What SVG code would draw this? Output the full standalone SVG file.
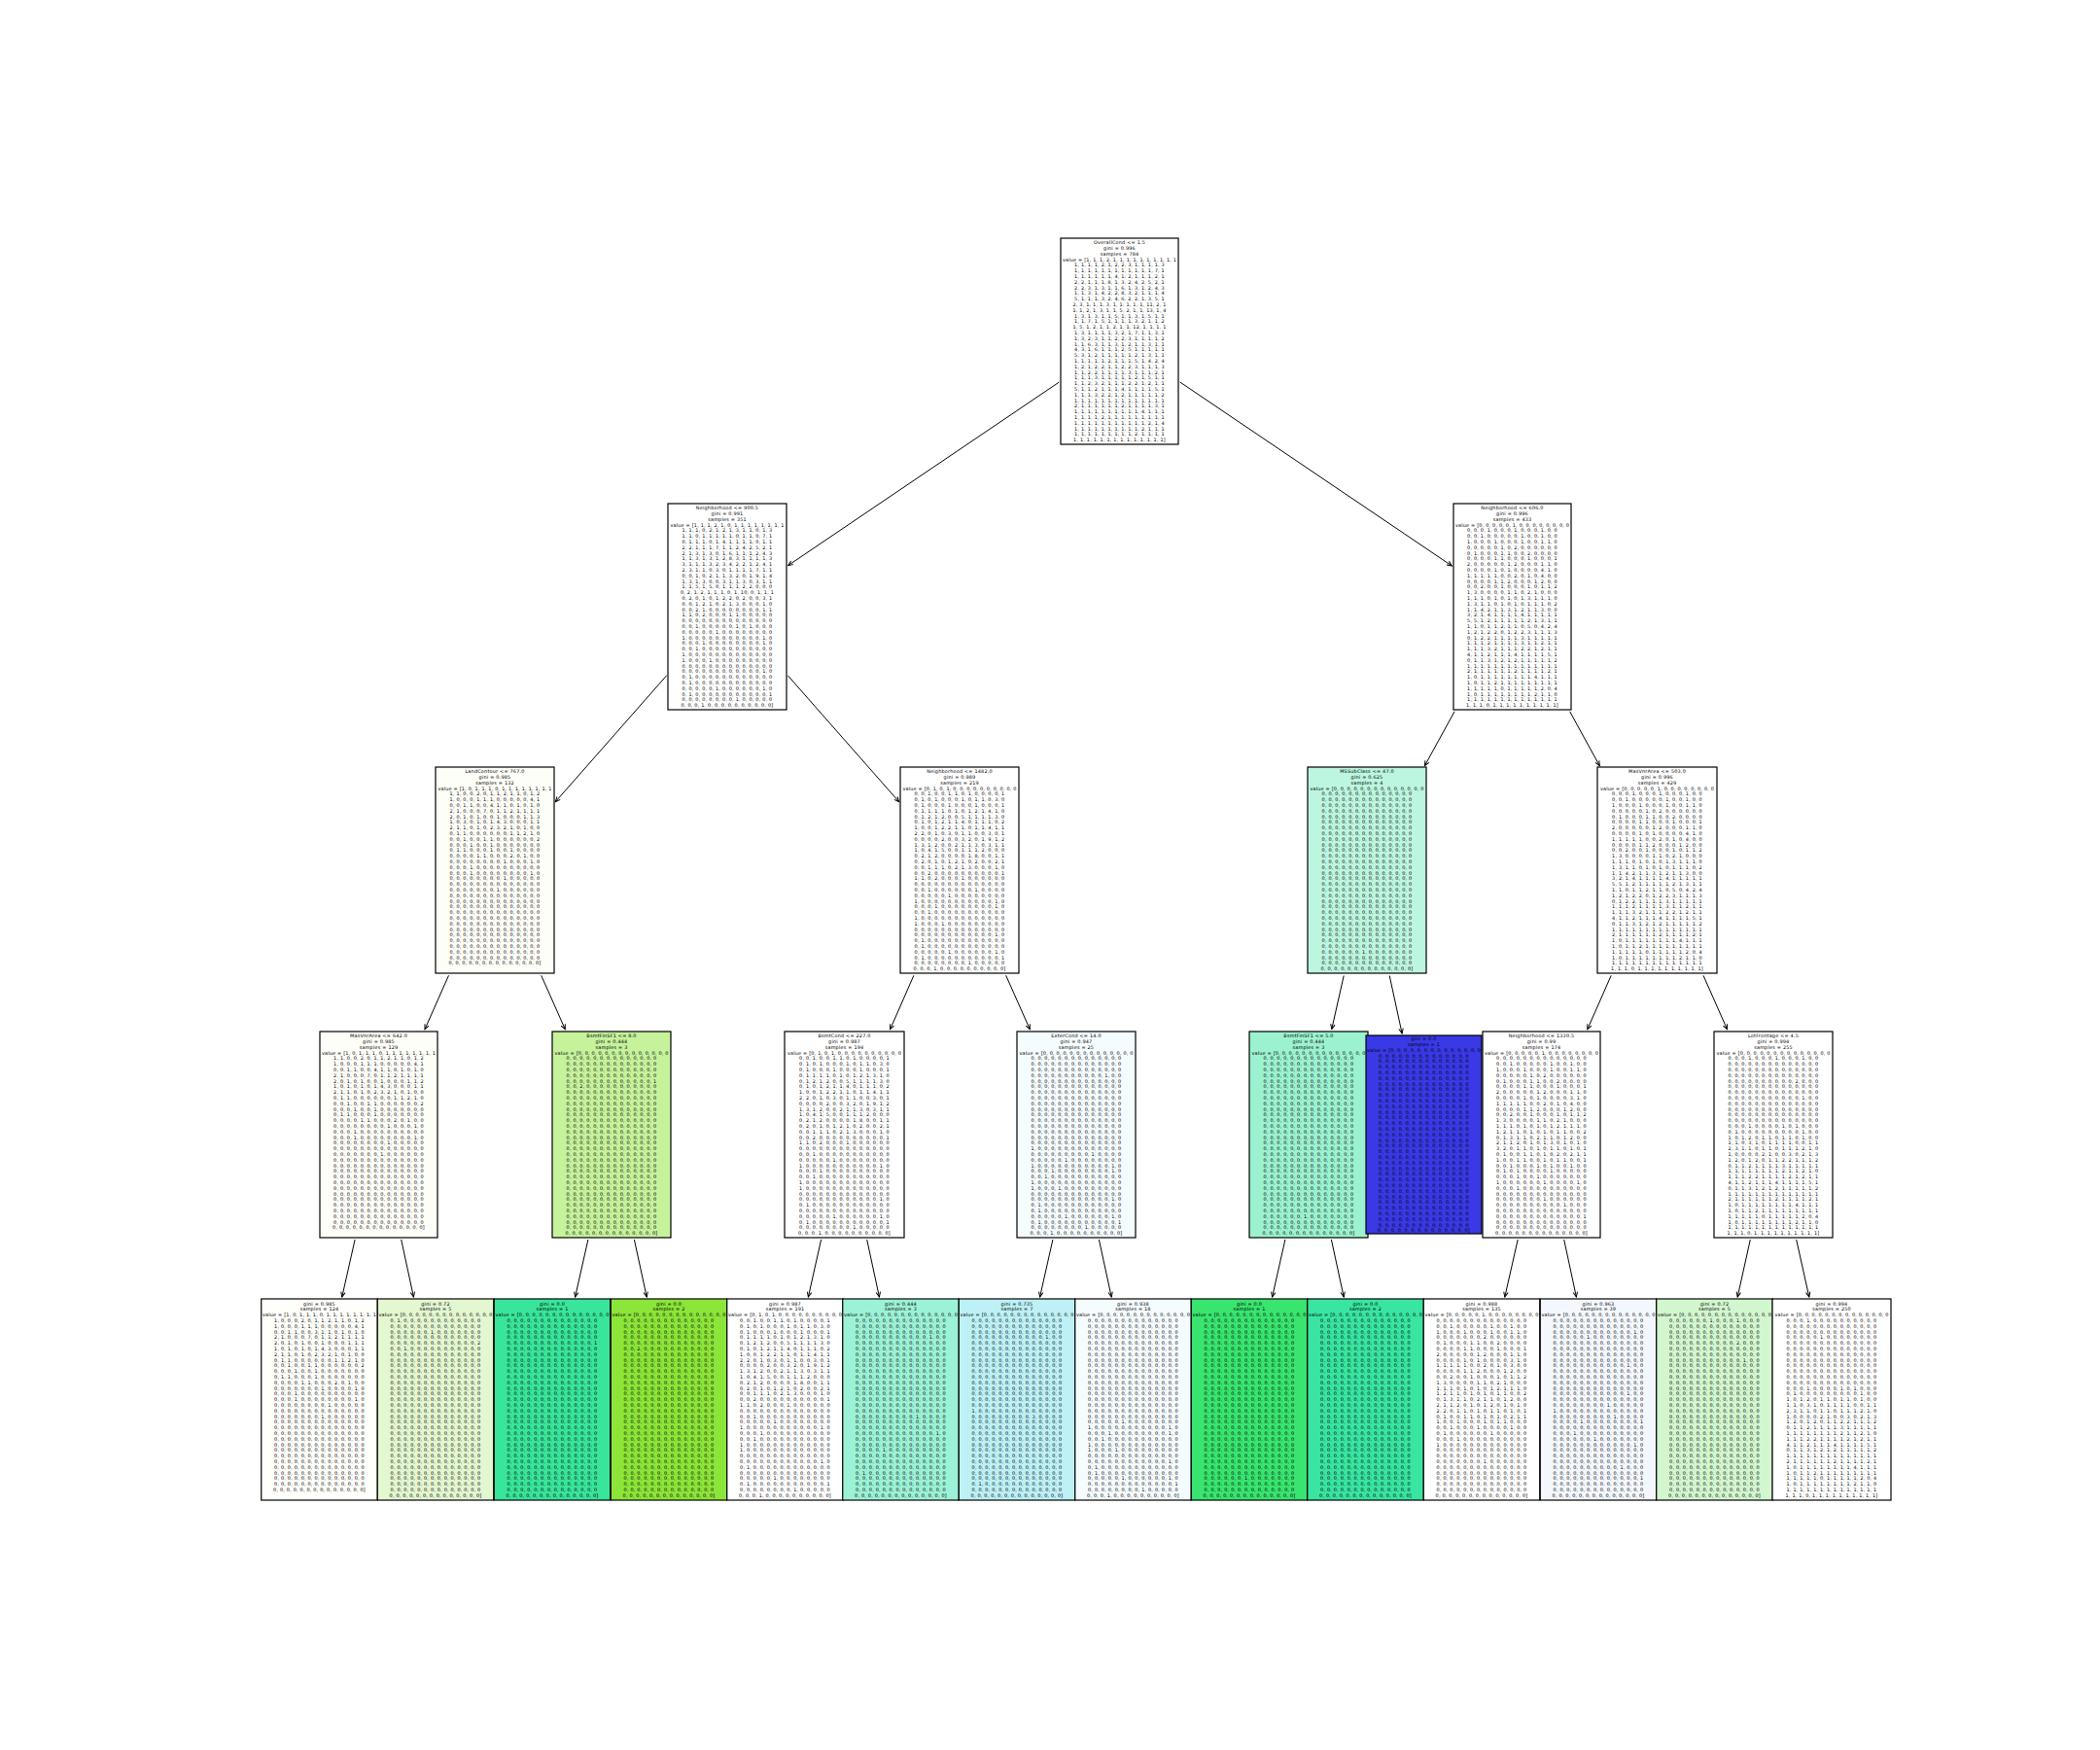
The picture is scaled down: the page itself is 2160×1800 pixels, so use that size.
<svg xmlns="http://www.w3.org/2000/svg" width="2160" height="1800" viewBox="0 0 2160 1800">
<style>
.b{stroke:#000;stroke-width:1.2}
.t{font-family:"DejaVu Sans","Liberation Sans",sans-serif;font-size:4.9px;letter-spacing:0.22px;text-anchor:middle;fill:#000}
.e{stroke:#000;stroke-width:1;fill:none;marker-end:url(#ah)}
</style>
<defs>
<marker id="ah" viewBox="-6 -3 7 6" refX="0" refY="0" markerWidth="7" markerHeight="6" orient="auto" markerUnits="userSpaceOnUse"><path d="M-5,-2.2 L0,0 L-5,2.2" fill="none" stroke="#000" stroke-width="1"/></marker>
</defs>
<rect width="2160" height="1800" fill="#fff"/>
<g id="connectors">
<line class="e" x1="1089.3" y1="393.1" x2="810.7" y2="581.6"/>
<line class="e" x1="1213.7" y1="393.0" x2="1493.3" y2="582.0"/>
<line class="e" x1="685.7" y1="694.8" x2="571.3" y2="824.7"/>
<line class="e" x1="810.3" y1="694.8" x2="924.7" y2="824.7"/>
<line class="e" x1="1496.1" y1="731.8" x2="1465.4" y2="787.7"/>
<line class="e" x1="1614.7" y1="731.8" x2="1645.3" y2="787.7"/>
<line class="e" x1="461.5" y1="1003.3" x2="437" y2="1058.7"/>
<line class="e" x1="556.7" y1="1003.3" x2="581.3" y2="1058.7"/>
<line class="e" x1="939.9" y1="1003.3" x2="915.6" y2="1058.7"/>
<line class="e" x1="1034.7" y1="1003.3" x2="1059.3" y2="1058.7"/>
<line class="e" x1="1382.2" y1="1003.5" x2="1369.8" y2="1058.5"/>
<line class="e" x1="1429.2" y1="1003.5" x2="1442.1" y2="1063"/>
<line class="e" x1="1657.2" y1="1003.3" x2="1632.8" y2="1058.7"/>
<line class="e" x1="1752" y1="1003.3" x2="1776.5" y2="1058.7"/>
<line class="e" x1="365.1" y1="1275" x2="351.8" y2="1334"/>
<line class="e" x1="412.7" y1="1275" x2="425.4" y2="1334"/>
<line class="e" x1="604.9" y1="1275" x2="591.6" y2="1334"/>
<line class="e" x1="652.4" y1="1275" x2="665.2" y2="1334"/>
<line class="e" x1="844.6" y1="1275" x2="831.4" y2="1334"/>
<line class="e" x1="891.7" y1="1275" x2="904.4" y2="1334"/>
<line class="e" x1="1082.9" y1="1275" x2="1069.6" y2="1334"/>
<line class="e" x1="1130.4" y1="1275" x2="1143.2" y2="1334"/>
<line class="e" x1="1321.9" y1="1275" x2="1308.6" y2="1334"/>
<line class="e" x1="1369.4" y1="1275" x2="1382.2" y2="1334"/>
<line class="e" x1="1561.2" y1="1275" x2="1547.8" y2="1334"/>
<line class="e" x1="1608.7" y1="1275" x2="1621.4" y2="1334"/>
<line class="e" x1="1800.3" y1="1275" x2="1787.2" y2="1334"/>
<line class="e" x1="1847.7" y1="1275" x2="1860.8" y2="1334"/>
</g>

<g id="node0" transform="translate(1151.5,245)"><rect class="b" x="-60.5" width="121" height="212" fill="#ffffff"/><text class="t" y="6.25"><tspan x="0">OverallCond &lt;= 1.5</tspan><tspan x="0" dy="5.8">gini = 0.996</tspan><tspan x="0" dy="5.8">samples = 784</tspan><tspan x="0" dy="5.8">value = [1, 1, 1, 2, 1, 1, 1, 1, 1, 1, 1, 1, 1, 1</tspan><tspan x="0" dy="5.8">1, 1, 1, 1, 2, 1, 2, 2, 3, 1, 1, 1, 1, 3</tspan><tspan x="0" dy="5.8">1, 1, 1, 1, 1, 1, 1, 1, 1, 1, 1, 1, 7, 1</tspan><tspan x="0" dy="5.8">1, 1, 1, 1, 1, 1, 4, 1, 2, 1, 1, 1, 2, 1</tspan><tspan x="0" dy="5.8">2, 2, 1, 1, 1, 8, 1, 3, 2, 4, 2, 5, 2, 1</tspan><tspan x="0" dy="5.8">2, 2, 3, 1, 3, 1, 1, 6, 1, 3, 1, 2, 4, 3</tspan><tspan x="0" dy="5.8">1, 1, 3, 1, 4, 2, 2, 8, 3, 2, 1, 1, 1, 4</tspan><tspan x="0" dy="5.8">5, 1, 1, 1, 3, 2, 4, 6, 2, 2, 1, 3, 5, 1</tspan><tspan x="0" dy="5.8">2, 3, 1, 1, 1, 3, 1, 1, 1, 1, 1, 11, 2, 1</tspan><tspan x="0" dy="5.8">1, 1, 2, 1, 3, 1, 1, 5, 2, 1, 1, 13, 1, 4</tspan><tspan x="0" dy="5.8">1, 3, 1, 3, 1, 1, 5, 1, 1, 3, 1, 5, 1, 1</tspan><tspan x="0" dy="5.8">1, 1, 7, 1, 5, 1, 1, 1, 1, 3, 2, 1, 1, 2</tspan><tspan x="0" dy="5.8">1, 5, 1, 2, 1, 1, 2, 1, 1, 12, 1, 1, 1, 1</tspan><tspan x="0" dy="5.8">1, 3, 1, 1, 1, 1, 3, 2, 1, 7, 1, 1, 3, 1</tspan><tspan x="0" dy="5.8">1, 3, 2, 3, 1, 1, 2, 2, 3, 1, 1, 1, 1, 2</tspan><tspan x="0" dy="5.8">1, 1, 6, 3, 1, 1, 3, 1, 2, 1, 1, 3, 1, 1</tspan><tspan x="0" dy="5.8">4, 3, 1, 6, 1, 1, 1, 2, 5, 1, 1, 1, 1, 1</tspan><tspan x="0" dy="5.8">5, 3, 1, 2, 1, 1, 1, 1, 1, 2, 1, 3, 1, 1</tspan><tspan x="0" dy="5.8">1, 1, 1, 1, 1, 2, 1, 1, 1, 5, 1, 4, 2, 4</tspan><tspan x="0" dy="5.8">1, 2, 1, 2, 2, 1, 1, 2, 2, 3, 1, 1, 1, 3</tspan><tspan x="0" dy="5.8">1, 1, 2, 2, 1, 1, 1, 1, 3, 1, 1, 1, 2, 1</tspan><tspan x="0" dy="5.8">1, 1, 1, 3, 1, 1, 1, 1, 1, 2, 1, 5, 1, 1</tspan><tspan x="0" dy="5.8">1, 1, 2, 3, 2, 1, 1, 1, 2, 2, 1, 2, 1, 1</tspan><tspan x="0" dy="5.8">5, 1, 1, 2, 1, 1, 1, 4, 1, 1, 1, 1, 5, 1</tspan><tspan x="0" dy="5.8">1, 1, 1, 3, 2, 2, 1, 2, 1, 1, 1, 1, 1, 2</tspan><tspan x="0" dy="5.8">1, 1, 1, 1, 1, 1, 1, 1, 1, 1, 1, 1, 1, 1</tspan><tspan x="0" dy="5.8">2, 1, 1, 1, 1, 1, 1, 2, 1, 1, 1, 1, 3, 1</tspan><tspan x="0" dy="5.8">1, 1, 1, 1, 1, 1, 1, 1, 1, 1, 4, 1, 1, 1</tspan><tspan x="0" dy="5.8">1, 1, 1, 1, 2, 1, 1, 1, 1, 1, 1, 1, 1, 1</tspan><tspan x="0" dy="5.8">1, 1, 1, 1, 1, 1, 1, 1, 1, 1, 1, 2, 1, 4</tspan><tspan x="0" dy="5.8">1, 1, 1, 1, 1, 1, 1, 1, 1, 1, 2, 1, 1, 1</tspan><tspan x="0" dy="5.8">1, 1, 1, 1, 1, 1, 1, 1, 1, 2, 1, 1, 1, 1</tspan><tspan x="0" dy="5.8">1, 1, 1, 1, 1, 1, 1, 1, 1, 1, 1, 1, 1, 1]</tspan></text></g>

<g id="node1" transform="translate(748,518)"><rect class="b" x="-61" width="122" height="212" fill="#ffffff"/><text class="t" y="6.25"><tspan x="0">Neighborhood &lt;= 900.5</tspan><tspan x="0" dy="5.8">gini = 0.991</tspan><tspan x="0" dy="5.8">samples = 351</tspan><tspan x="0" dy="5.8">value = [1, 1, 1, 2, 1, 0, 1, 1, 1, 1, 1, 1, 1, 1</tspan><tspan x="0" dy="5.8">1, 1, 1, 0, 2, 1, 2, 1, 3, 1, 1, 0, 1, 3</tspan><tspan x="0" dy="5.8">1, 1, 0, 1, 1, 1, 1, 1, 0, 1, 1, 0, 7, 1</tspan><tspan x="0" dy="5.8">0, 1, 1, 1, 0, 1, 4, 1, 1, 1, 1, 0, 1, 1</tspan><tspan x="0" dy="5.8">2, 2, 1, 1, 1, 7, 1, 1, 2, 4, 2, 5, 2, 1</tspan><tspan x="0" dy="5.8">2, 1, 3, 1, 3, 0, 1, 6, 1, 1, 1, 2, 4, 3</tspan><tspan x="0" dy="5.8">1, 1, 3, 1, 3, 1, 2, 8, 3, 1, 1, 1, 1, 3</tspan><tspan x="0" dy="5.8">3, 1, 1, 1, 3, 2, 3, 4, 2, 2, 1, 2, 4, 1</tspan><tspan x="0" dy="5.8">2, 3, 1, 1, 0, 3, 0, 1, 1, 1, 1, 7, 1, 1</tspan><tspan x="0" dy="5.8">0, 0, 1, 0, 2, 1, 1, 3, 2, 0, 1, 9, 1, 4</tspan><tspan x="0" dy="5.8">1, 3, 1, 3, 0, 0, 3, 1, 1, 3, 0, 3, 1, 1</tspan><tspan x="0" dy="5.8">1, 1, 5, 1, 5, 0, 1, 1, 1, 2, 2, 0, 0, 0</tspan><tspan x="0" dy="5.8">0, 2, 1, 2, 1, 1, 1, 0, 1, 10, 0, 1, 1, 1</tspan><tspan x="0" dy="5.8">0, 2, 0, 1, 0, 1, 2, 2, 0, 2, 0, 0, 3, 1</tspan><tspan x="0" dy="5.8">0, 0, 1, 2, 1, 0, 2, 1, 3, 0, 0, 0, 1, 0</tspan><tspan x="0" dy="5.8">0, 0, 2, 1, 0, 0, 0, 0, 0, 0, 0, 0, 1, 1</tspan><tspan x="0" dy="5.8">1, 1, 0, 2, 0, 0, 0, 1, 1, 0, 0, 0, 0, 0</tspan><tspan x="0" dy="5.8">0, 0, 0, 0, 0, 0, 0, 0, 0, 0, 0, 0, 0, 0</tspan><tspan x="0" dy="5.8">0, 0, 1, 0, 0, 0, 0, 0, 1, 0, 1, 0, 0, 0</tspan><tspan x="0" dy="5.8">0, 0, 0, 0, 0, 1, 0, 0, 0, 0, 0, 0, 0, 0</tspan><tspan x="0" dy="5.8">1, 0, 0, 0, 0, 0, 0, 0, 0, 0, 0, 0, 1, 0</tspan><tspan x="0" dy="5.8">0, 0, 0, 1, 0, 0, 0, 0, 0, 0, 0, 0, 1, 0</tspan><tspan x="0" dy="5.8">0, 0, 1, 0, 0, 0, 0, 0, 0, 0, 0, 0, 0, 0</tspan><tspan x="0" dy="5.8">1, 0, 0, 0, 0, 0, 0, 0, 0, 0, 0, 0, 0, 0</tspan><tspan x="0" dy="5.8">1, 0, 0, 0, 1, 0, 0, 0, 0, 0, 0, 0, 0, 0</tspan><tspan x="0" dy="5.8">0, 0, 0, 0, 0, 0, 0, 0, 0, 0, 0, 0, 0, 0</tspan><tspan x="0" dy="5.8">0, 0, 0, 0, 0, 0, 0, 0, 0, 0, 0, 0, 1, 0</tspan><tspan x="0" dy="5.8">0, 1, 0, 0, 0, 0, 0, 0, 0, 0, 0, 0, 0, 0</tspan><tspan x="0" dy="5.8">0, 1, 0, 0, 0, 0, 0, 0, 0, 0, 0, 0, 0, 0</tspan><tspan x="0" dy="5.8">0, 0, 0, 0, 0, 1, 0, 0, 0, 0, 0, 0, 1, 0</tspan><tspan x="0" dy="5.8">0, 1, 0, 0, 0, 0, 0, 0, 0, 0, 0, 0, 0, 1</tspan><tspan x="0" dy="5.8">0, 0, 0, 0, 0, 0, 0, 0, 1, 0, 0, 0, 0, 0</tspan><tspan x="0" dy="5.8">0, 0, 0, 1, 0, 0, 0, 0, 0, 0, 0, 0, 0, 0]</tspan></text></g>

<g id="node3" transform="translate(509,789)"><rect class="b" x="-61" width="122" height="212" fill="#fefef8"/><text class="t" y="6.25"><tspan x="0">LandContour &lt;= 767.0</tspan><tspan x="0" dy="5.8">gini = 0.985</tspan><tspan x="0" dy="5.8">samples = 132</tspan><tspan x="0" dy="5.8">value = [1, 0, 1, 1, 1, 0, 1, 1, 1, 1, 1, 1, 1, 1</tspan><tspan x="0" dy="5.8">1, 1, 0, 0, 2, 0, 1, 1, 2, 1, 1, 0, 1, 2</tspan><tspan x="0" dy="5.8">1, 0, 0, 0, 1, 1, 1, 0, 0, 0, 0, 0, 4, 1</tspan><tspan x="0" dy="5.8">0, 0, 1, 1, 0, 0, 4, 1, 1, 0, 1, 0, 1, 0</tspan><tspan x="0" dy="5.8">2, 1, 0, 0, 0, 7, 0, 1, 1, 2, 1, 1, 1, 1</tspan><tspan x="0" dy="5.8">2, 0, 1, 0, 1, 0, 0, 1, 0, 0, 0, 1, 1, 3</tspan><tspan x="0" dy="5.8">1, 0, 3, 0, 1, 0, 1, 4, 3, 0, 0, 0, 1, 1</tspan><tspan x="0" dy="5.8">2, 1, 1, 0, 1, 0, 2, 3, 2, 1, 0, 1, 0, 0</tspan><tspan x="0" dy="5.8">0, 1, 1, 0, 0, 0, 0, 0, 0, 1, 1, 2, 1, 0</tspan><tspan x="0" dy="5.8">0, 0, 1, 0, 0, 1, 1, 0, 0, 0, 0, 0, 0, 2</tspan><tspan x="0" dy="5.8">0, 0, 0, 1, 0, 0, 1, 0, 0, 0, 0, 0, 0, 0</tspan><tspan x="0" dy="5.8">0, 1, 1, 0, 0, 0, 1, 0, 0, 1, 0, 0, 0, 0</tspan><tspan x="0" dy="5.8">0, 0, 0, 0, 1, 1, 0, 0, 0, 2, 0, 1, 0, 0</tspan><tspan x="0" dy="5.8">0, 0, 0, 0, 0, 0, 0, 0, 1, 0, 0, 0, 1, 0</tspan><tspan x="0" dy="5.8">0, 0, 0, 1, 0, 0, 0, 0, 0, 0, 0, 0, 0, 0</tspan><tspan x="0" dy="5.8">0, 0, 0, 1, 0, 0, 0, 0, 0, 0, 0, 0, 1, 0</tspan><tspan x="0" dy="5.8">0, 0, 0, 0, 0, 0, 0, 0, 1, 0, 0, 0, 0, 0</tspan><tspan x="0" dy="5.8">0, 0, 0, 0, 0, 0, 0, 0, 0, 0, 0, 0, 0, 0</tspan><tspan x="0" dy="5.8">0, 0, 0, 0, 0, 0, 0, 1, 0, 0, 0, 0, 0, 0</tspan><tspan x="0" dy="5.8">0, 0, 0, 0, 0, 0, 0, 0, 0, 0, 0, 0, 0, 0</tspan><tspan x="0" dy="5.8">0, 0, 0, 0, 0, 0, 0, 0, 0, 0, 0, 0, 0, 0</tspan><tspan x="0" dy="5.8">0, 0, 0, 0, 0, 0, 0, 0, 0, 0, 0, 0, 0, 0</tspan><tspan x="0" dy="5.8">0, 0, 0, 0, 0, 0, 0, 0, 0, 0, 0, 0, 0, 0</tspan><tspan x="0" dy="5.8">0, 0, 0, 0, 0, 0, 0, 0, 0, 0, 0, 0, 0, 0</tspan><tspan x="0" dy="5.8">0, 0, 0, 0, 0, 0, 0, 0, 0, 0, 0, 0, 0, 0</tspan><tspan x="0" dy="5.8">0, 0, 0, 0, 0, 0, 0, 0, 0, 0, 0, 0, 0, 0</tspan><tspan x="0" dy="5.8">0, 0, 0, 0, 0, 0, 0, 0, 0, 0, 0, 0, 0, 0</tspan><tspan x="0" dy="5.8">0, 0, 0, 0, 0, 0, 0, 0, 0, 0, 0, 0, 0, 0</tspan><tspan x="0" dy="5.8">0, 0, 0, 0, 0, 0, 0, 0, 0, 0, 0, 0, 0, 0</tspan><tspan x="0" dy="5.8">0, 0, 0, 0, 0, 0, 0, 0, 0, 0, 0, 0, 0, 0</tspan><tspan x="0" dy="5.8">0, 0, 0, 0, 0, 0, 0, 0, 0, 0, 0, 0, 0, 0</tspan><tspan x="0" dy="5.8">0, 0, 0, 0, 0, 0, 0, 0, 0, 0, 0, 0, 0, 0]</tspan></text></g>

<g id="node7" transform="translate(389.5,1061)"><rect class="b" x="-60.5" width="121" height="212" fill="#fefef9"/><text class="t" y="6.25"><tspan x="0">MasVnrArea &lt;= 642.0</tspan><tspan x="0" dy="5.8">gini = 0.985</tspan><tspan x="0" dy="5.8">samples = 129</tspan><tspan x="0" dy="5.8">value = [1, 0, 1, 1, 1, 0, 1, 1, 1, 1, 1, 1, 1, 1</tspan><tspan x="0" dy="5.8">1, 1, 0, 0, 2, 0, 1, 1, 2, 1, 1, 0, 1, 2</tspan><tspan x="0" dy="5.8">1, 0, 0, 0, 1, 1, 1, 0, 0, 0, 0, 0, 4, 1</tspan><tspan x="0" dy="5.8">0, 0, 1, 1, 0, 0, 4, 1, 1, 0, 1, 0, 1, 0</tspan><tspan x="0" dy="5.8">2, 1, 0, 0, 0, 7, 0, 1, 1, 2, 1, 1, 1, 1</tspan><tspan x="0" dy="5.8">2, 0, 1, 0, 1, 0, 0, 1, 0, 0, 0, 1, 1, 2</tspan><tspan x="0" dy="5.8">1, 0, 1, 0, 1, 0, 1, 4, 3, 0, 0, 0, 1, 1</tspan><tspan x="0" dy="5.8">2, 1, 1, 0, 1, 0, 2, 3, 2, 1, 0, 1, 0, 0</tspan><tspan x="0" dy="5.8">0, 1, 1, 0, 0, 0, 0, 0, 0, 1, 1, 2, 1, 0</tspan><tspan x="0" dy="5.8">0, 0, 1, 0, 0, 1, 1, 0, 0, 0, 0, 0, 0, 2</tspan><tspan x="0" dy="5.8">0, 0, 0, 1, 0, 0, 1, 0, 0, 0, 0, 0, 0, 0</tspan><tspan x="0" dy="5.8">0, 1, 1, 0, 0, 0, 1, 0, 0, 0, 0, 0, 0, 0</tspan><tspan x="0" dy="5.8">0, 0, 0, 0, 1, 1, 0, 0, 0, 2, 0, 1, 0, 0</tspan><tspan x="0" dy="5.8">0, 0, 0, 0, 0, 0, 0, 0, 1, 0, 0, 0, 1, 0</tspan><tspan x="0" dy="5.8">0, 0, 0, 1, 0, 0, 0, 0, 0, 0, 0, 0, 0, 0</tspan><tspan x="0" dy="5.8">0, 0, 0, 1, 0, 0, 0, 0, 0, 0, 0, 0, 1, 0</tspan><tspan x="0" dy="5.8">0, 0, 0, 0, 0, 0, 0, 0, 1, 0, 0, 0, 0, 0</tspan><tspan x="0" dy="5.8">0, 0, 0, 0, 0, 0, 0, 0, 0, 0, 0, 0, 0, 0</tspan><tspan x="0" dy="5.8">0, 0, 0, 0, 0, 0, 0, 1, 0, 0, 0, 0, 0, 0</tspan><tspan x="0" dy="5.8">0, 0, 0, 0, 0, 0, 0, 0, 0, 0, 0, 0, 0, 0</tspan><tspan x="0" dy="5.8">0, 0, 0, 0, 0, 0, 0, 0, 0, 0, 0, 0, 0, 0</tspan><tspan x="0" dy="5.8">0, 0, 0, 0, 0, 0, 0, 0, 0, 0, 0, 0, 0, 0</tspan><tspan x="0" dy="5.8">0, 0, 0, 0, 0, 0, 0, 0, 0, 0, 0, 0, 0, 0</tspan><tspan x="0" dy="5.8">0, 0, 0, 0, 0, 0, 0, 0, 0, 0, 0, 0, 0, 0</tspan><tspan x="0" dy="5.8">0, 0, 0, 0, 0, 0, 0, 0, 0, 0, 0, 0, 0, 0</tspan><tspan x="0" dy="5.8">0, 0, 0, 0, 0, 0, 0, 0, 0, 0, 0, 0, 0, 0</tspan><tspan x="0" dy="5.8">0, 0, 0, 0, 0, 0, 0, 0, 0, 0, 0, 0, 0, 0</tspan><tspan x="0" dy="5.8">0, 0, 0, 0, 0, 0, 0, 0, 0, 0, 0, 0, 0, 0</tspan><tspan x="0" dy="5.8">0, 0, 0, 0, 0, 0, 0, 0, 0, 0, 0, 0, 0, 0</tspan><tspan x="0" dy="5.8">0, 0, 0, 0, 0, 0, 0, 0, 0, 0, 0, 0, 0, 0</tspan><tspan x="0" dy="5.8">0, 0, 0, 0, 0, 0, 0, 0, 0, 0, 0, 0, 0, 0</tspan><tspan x="0" dy="5.8">0, 0, 0, 0, 0, 0, 0, 0, 0, 0, 0, 0, 0, 0]</tspan></text></g>

<g id="leaf1" transform="translate(328.5,1336)"><rect class="b" x="-59.75" width="119.5" height="207" fill="#fefefa"/><text class="t" y="6.65"><tspan x="0">gini = 0.985</tspan><tspan x="0" dy="5.8">samples = 124</tspan><tspan x="0" dy="5.8">value = [1, 0, 1, 1, 1, 0, 1, 1, 1, 1, 1, 1, 1, 1</tspan><tspan x="0" dy="5.8">1, 0, 0, 0, 2, 0, 1, 1, 2, 1, 1, 0, 1, 2</tspan><tspan x="0" dy="5.8">1, 0, 0, 0, 1, 1, 1, 0, 0, 0, 0, 0, 4, 1</tspan><tspan x="0" dy="5.8">0, 0, 1, 1, 0, 0, 3, 1, 1, 0, 1, 0, 1, 0</tspan><tspan x="0" dy="5.8">2, 1, 0, 0, 0, 7, 0, 1, 1, 2, 1, 1, 1, 1</tspan><tspan x="0" dy="5.8">2, 0, 1, 0, 1, 0, 0, 1, 0, 0, 0, 1, 1, 1</tspan><tspan x="0" dy="5.8">1, 0, 1, 0, 1, 0, 1, 4, 3, 0, 0, 0, 1, 1</tspan><tspan x="0" dy="5.8">2, 1, 1, 0, 1, 0, 2, 3, 2, 1, 0, 1, 0, 0</tspan><tspan x="0" dy="5.8">0, 1, 1, 0, 0, 0, 0, 0, 0, 1, 1, 2, 1, 0</tspan><tspan x="0" dy="5.8">0, 0, 1, 0, 0, 1, 1, 0, 0, 0, 0, 0, 0, 2</tspan><tspan x="0" dy="5.8">0, 0, 0, 1, 0, 0, 1, 0, 0, 0, 0, 0, 0, 0</tspan><tspan x="0" dy="5.8">0, 1, 1, 0, 0, 0, 1, 0, 0, 0, 0, 0, 0, 0</tspan><tspan x="0" dy="5.8">0, 0, 0, 0, 1, 1, 0, 0, 0, 2, 0, 1, 0, 0</tspan><tspan x="0" dy="5.8">0, 0, 0, 0, 0, 0, 0, 1, 0, 0, 0, 0, 1, 0</tspan><tspan x="0" dy="5.8">0, 0, 0, 1, 0, 0, 0, 0, 0, 0, 0, 0, 0, 0</tspan><tspan x="0" dy="5.8">0, 0, 0, 1, 0, 0, 0, 0, 0, 0, 0, 0, 1, 0</tspan><tspan x="0" dy="5.8">0, 0, 0, 0, 0, 0, 0, 0, 1, 0, 0, 0, 0, 0</tspan><tspan x="0" dy="5.8">0, 0, 0, 0, 0, 0, 0, 0, 0, 0, 0, 0, 0, 0</tspan><tspan x="0" dy="5.8">0, 0, 0, 0, 0, 0, 0, 1, 0, 0, 0, 0, 0, 0</tspan><tspan x="0" dy="5.8">0, 0, 0, 0, 0, 0, 0, 0, 0, 0, 0, 0, 0, 0</tspan><tspan x="0" dy="5.8">0, 0, 0, 0, 0, 0, 0, 0, 0, 0, 0, 0, 0, 0</tspan><tspan x="0" dy="5.8">0, 0, 0, 0, 0, 0, 0, 0, 0, 0, 0, 0, 0, 0</tspan><tspan x="0" dy="5.8">0, 0, 0, 0, 0, 0, 0, 0, 0, 0, 0, 0, 0, 0</tspan><tspan x="0" dy="5.8">0, 0, 0, 0, 0, 0, 0, 0, 0, 0, 0, 0, 0, 0</tspan><tspan x="0" dy="5.8">0, 0, 0, 0, 0, 0, 0, 0, 0, 0, 0, 0, 0, 0</tspan><tspan x="0" dy="5.8">0, 0, 0, 0, 0, 0, 0, 0, 0, 0, 0, 0, 0, 0</tspan><tspan x="0" dy="5.8">0, 0, 0, 0, 0, 0, 0, 0, 0, 0, 0, 0, 0, 0</tspan><tspan x="0" dy="5.8">0, 0, 0, 0, 0, 0, 0, 0, 0, 0, 0, 0, 0, 0</tspan><tspan x="0" dy="5.8">0, 0, 0, 0, 0, 0, 0, 0, 0, 0, 0, 0, 0, 0</tspan><tspan x="0" dy="5.8">0, 0, 0, 0, 0, 0, 0, 0, 0, 0, 0, 0, 0, 0</tspan><tspan x="0" dy="5.8">0, 0, 0, 0, 0, 0, 0, 0, 0, 0, 0, 0, 0, 0</tspan><tspan x="0" dy="5.8">0, 0, 0, 0, 0, 0, 0, 0, 0, 0, 0, 0, 0, 0]</tspan></text></g>

<g id="leaf2" transform="translate(448,1336)"><rect class="b" x="-59.75" width="119.5" height="207" fill="#e3f7d0"/><text class="t" y="6.65"><tspan x="0">gini = 0.72</tspan><tspan x="0" dy="5.8">samples = 5</tspan><tspan x="0" dy="5.8">value = [0, 0, 0, 0, 0, 0, 0, 0, 0, 0, 0, 0, 0, 0</tspan><tspan x="0" dy="5.8">0, 1, 0, 0, 0, 0, 0, 0, 0, 0, 0, 0, 0, 0</tspan><tspan x="0" dy="5.8">0, 0, 0, 0, 0, 0, 0, 0, 0, 0, 0, 0, 0, 0</tspan><tspan x="0" dy="5.8">0, 0, 0, 0, 0, 0, 1, 0, 0, 0, 0, 0, 0, 0</tspan><tspan x="0" dy="5.8">0, 0, 0, 0, 0, 0, 0, 0, 0, 0, 0, 0, 0, 0</tspan><tspan x="0" dy="5.8">0, 0, 0, 0, 0, 0, 0, 0, 0, 0, 0, 0, 0, 2</tspan><tspan x="0" dy="5.8">0, 0, 1, 0, 0, 0, 0, 0, 0, 0, 0, 0, 0, 0</tspan><tspan x="0" dy="5.8">0, 0, 0, 0, 0, 0, 0, 0, 0, 0, 0, 0, 0, 0</tspan><tspan x="0" dy="5.8">0, 0, 0, 0, 0, 0, 0, 0, 0, 0, 0, 0, 0, 0</tspan><tspan x="0" dy="5.8">0, 0, 0, 0, 0, 0, 0, 0, 0, 0, 0, 0, 0, 0</tspan><tspan x="0" dy="5.8">0, 0, 0, 0, 0, 0, 0, 0, 0, 0, 0, 0, 0, 0</tspan><tspan x="0" dy="5.8">0, 0, 0, 0, 0, 0, 0, 0, 0, 0, 0, 0, 0, 0</tspan><tspan x="0" dy="5.8">0, 0, 0, 0, 0, 0, 0, 0, 0, 0, 0, 0, 0, 0</tspan><tspan x="0" dy="5.8">0, 0, 0, 0, 0, 0, 0, 0, 0, 0, 0, 0, 0, 0</tspan><tspan x="0" dy="5.8">0, 0, 0, 0, 0, 0, 0, 0, 0, 0, 0, 0, 0, 0</tspan><tspan x="0" dy="5.8">0, 0, 0, 0, 0, 0, 0, 0, 0, 0, 0, 0, 0, 0</tspan><tspan x="0" dy="5.8">0, 0, 0, 0, 0, 0, 0, 0, 0, 0, 0, 0, 0, 0</tspan><tspan x="0" dy="5.8">0, 0, 0, 0, 0, 0, 0, 0, 0, 0, 0, 0, 0, 0</tspan><tspan x="0" dy="5.8">0, 0, 0, 0, 0, 0, 0, 0, 0, 0, 0, 0, 0, 0</tspan><tspan x="0" dy="5.8">0, 0, 0, 0, 0, 0, 0, 0, 0, 0, 0, 0, 0, 0</tspan><tspan x="0" dy="5.8">0, 0, 0, 0, 0, 0, 0, 0, 0, 0, 0, 0, 0, 0</tspan><tspan x="0" dy="5.8">0, 0, 0, 0, 0, 0, 0, 0, 0, 0, 0, 0, 0, 0</tspan><tspan x="0" dy="5.8">0, 0, 0, 0, 0, 0, 0, 0, 0, 0, 0, 0, 0, 0</tspan><tspan x="0" dy="5.8">0, 0, 0, 0, 0, 0, 0, 0, 0, 0, 0, 0, 0, 0</tspan><tspan x="0" dy="5.8">0, 0, 0, 0, 0, 0, 0, 0, 0, 0, 0, 0, 0, 0</tspan><tspan x="0" dy="5.8">0, 0, 0, 0, 0, 0, 0, 0, 0, 0, 0, 0, 0, 0</tspan><tspan x="0" dy="5.8">0, 0, 0, 0, 0, 0, 0, 0, 0, 0, 0, 0, 0, 0</tspan><tspan x="0" dy="5.8">0, 0, 0, 0, 0, 0, 0, 0, 0, 0, 0, 0, 0, 0</tspan><tspan x="0" dy="5.8">0, 0, 0, 0, 0, 0, 0, 0, 0, 0, 0, 0, 0, 0</tspan><tspan x="0" dy="5.8">0, 0, 0, 0, 0, 0, 0, 0, 0, 0, 0, 0, 0, 0</tspan><tspan x="0" dy="5.8">0, 0, 0, 0, 0, 0, 0, 0, 0, 0, 0, 0, 0, 0</tspan><tspan x="0" dy="5.8">0, 0, 0, 0, 0, 0, 0, 0, 0, 0, 0, 0, 0, 0</tspan><tspan x="0" dy="5.8">0, 0, 0, 0, 0, 0, 0, 0, 0, 0, 0, 0, 0, 0]</tspan></text></g>

<g id="node8" transform="translate(629,1061)"><rect class="b" x="-61" width="122" height="212" fill="#c6f29c"/><text class="t" y="6.25"><tspan x="0">BsmtFinSF1 &lt;= 8.0</tspan><tspan x="0" dy="5.8">gini = 0.444</tspan><tspan x="0" dy="5.8">samples = 3</tspan><tspan x="0" dy="5.8">value = [0, 0, 0, 0, 0, 0, 0, 0, 0, 0, 0, 0, 0, 0</tspan><tspan x="0" dy="5.8">0, 0, 0, 0, 0, 0, 0, 0, 0, 0, 0, 0, 0, 0</tspan><tspan x="0" dy="5.8">0, 0, 0, 0, 0, 0, 0, 0, 0, 0, 0, 0, 0, 0</tspan><tspan x="0" dy="5.8">0, 0, 0, 0, 0, 0, 0, 0, 0, 0, 0, 0, 0, 0</tspan><tspan x="0" dy="5.8">0, 0, 0, 0, 0, 0, 0, 0, 0, 0, 0, 0, 0, 0</tspan><tspan x="0" dy="5.8">0, 0, 0, 0, 0, 0, 0, 0, 0, 0, 0, 0, 0, 1</tspan><tspan x="0" dy="5.8">0, 0, 2, 0, 0, 0, 0, 0, 0, 0, 0, 0, 0, 0</tspan><tspan x="0" dy="5.8">0, 0, 0, 0, 0, 0, 0, 0, 0, 0, 0, 0, 0, 0</tspan><tspan x="0" dy="5.8">0, 0, 0, 0, 0, 0, 0, 0, 0, 0, 0, 0, 0, 0</tspan><tspan x="0" dy="5.8">0, 0, 0, 0, 0, 0, 0, 0, 0, 0, 0, 0, 0, 0</tspan><tspan x="0" dy="5.8">0, 0, 0, 0, 0, 0, 0, 0, 0, 0, 0, 0, 0, 0</tspan><tspan x="0" dy="5.8">0, 0, 0, 0, 0, 0, 0, 0, 0, 0, 0, 0, 0, 0</tspan><tspan x="0" dy="5.8">0, 0, 0, 0, 0, 0, 0, 0, 0, 0, 0, 0, 0, 0</tspan><tspan x="0" dy="5.8">0, 0, 0, 0, 0, 0, 0, 0, 0, 0, 0, 0, 0, 0</tspan><tspan x="0" dy="5.8">0, 0, 0, 0, 0, 0, 0, 0, 0, 0, 0, 0, 0, 0</tspan><tspan x="0" dy="5.8">0, 0, 0, 0, 0, 0, 0, 0, 0, 0, 0, 0, 0, 0</tspan><tspan x="0" dy="5.8">0, 0, 0, 0, 0, 0, 0, 0, 0, 0, 0, 0, 0, 0</tspan><tspan x="0" dy="5.8">0, 0, 0, 0, 0, 0, 0, 0, 0, 0, 0, 0, 0, 0</tspan><tspan x="0" dy="5.8">0, 0, 0, 0, 0, 0, 0, 0, 0, 0, 0, 0, 0, 0</tspan><tspan x="0" dy="5.8">0, 0, 0, 0, 0, 0, 0, 0, 0, 0, 0, 0, 0, 0</tspan><tspan x="0" dy="5.8">0, 0, 0, 0, 0, 0, 0, 0, 0, 0, 0, 0, 0, 0</tspan><tspan x="0" dy="5.8">0, 0, 0, 0, 0, 0, 0, 0, 0, 0, 0, 0, 0, 0</tspan><tspan x="0" dy="5.8">0, 0, 0, 0, 0, 0, 0, 0, 0, 0, 0, 0, 0, 0</tspan><tspan x="0" dy="5.8">0, 0, 0, 0, 0, 0, 0, 0, 0, 0, 0, 0, 0, 0</tspan><tspan x="0" dy="5.8">0, 0, 0, 0, 0, 0, 0, 0, 0, 0, 0, 0, 0, 0</tspan><tspan x="0" dy="5.8">0, 0, 0, 0, 0, 0, 0, 0, 0, 0, 0, 0, 0, 0</tspan><tspan x="0" dy="5.8">0, 0, 0, 0, 0, 0, 0, 0, 0, 0, 0, 0, 0, 0</tspan><tspan x="0" dy="5.8">0, 0, 0, 0, 0, 0, 0, 0, 0, 0, 0, 0, 0, 0</tspan><tspan x="0" dy="5.8">0, 0, 0, 0, 0, 0, 0, 0, 0, 0, 0, 0, 0, 0</tspan><tspan x="0" dy="5.8">0, 0, 0, 0, 0, 0, 0, 0, 0, 0, 0, 0, 0, 0</tspan><tspan x="0" dy="5.8">0, 0, 0, 0, 0, 0, 0, 0, 0, 0, 0, 0, 0, 0</tspan><tspan x="0" dy="5.8">0, 0, 0, 0, 0, 0, 0, 0, 0, 0, 0, 0, 0, 0</tspan><tspan x="0" dy="5.8">0, 0, 0, 0, 0, 0, 0, 0, 0, 0, 0, 0, 0, 0]</tspan></text></g>

<g id="leaf3" transform="translate(568,1336)"><rect class="b" x="-59.75" width="119.5" height="207" fill="#39e59a"/><text class="t" y="6.65"><tspan x="0">gini = 0.0</tspan><tspan x="0" dy="5.8">samples = 1</tspan><tspan x="0" dy="5.8">value = [0, 0, 0, 0, 0, 0, 0, 0, 0, 0, 0, 0, 0, 0</tspan><tspan x="0" dy="5.8">0, 0, 0, 0, 0, 0, 0, 0, 0, 0, 0, 0, 0, 0</tspan><tspan x="0" dy="5.8">0, 0, 0, 0, 0, 0, 0, 0, 0, 0, 0, 0, 0, 0</tspan><tspan x="0" dy="5.8">0, 0, 0, 0, 0, 0, 0, 0, 0, 0, 0, 0, 0, 0</tspan><tspan x="0" dy="5.8">0, 0, 0, 0, 0, 0, 0, 0, 0, 0, 0, 0, 0, 0</tspan><tspan x="0" dy="5.8">0, 0, 0, 0, 0, 0, 0, 0, 0, 0, 0, 0, 0, 1</tspan><tspan x="0" dy="5.8">0, 0, 0, 0, 0, 0, 0, 0, 0, 0, 0, 0, 0, 0</tspan><tspan x="0" dy="5.8">0, 0, 0, 0, 0, 0, 0, 0, 0, 0, 0, 0, 0, 0</tspan><tspan x="0" dy="5.8">0, 0, 0, 0, 0, 0, 0, 0, 0, 0, 0, 0, 0, 0</tspan><tspan x="0" dy="5.8">0, 0, 0, 0, 0, 0, 0, 0, 0, 0, 0, 0, 0, 0</tspan><tspan x="0" dy="5.8">0, 0, 0, 0, 0, 0, 0, 0, 0, 0, 0, 0, 0, 0</tspan><tspan x="0" dy="5.8">0, 0, 0, 0, 0, 0, 0, 0, 0, 0, 0, 0, 0, 0</tspan><tspan x="0" dy="5.8">0, 0, 0, 0, 0, 0, 0, 0, 0, 0, 0, 0, 0, 0</tspan><tspan x="0" dy="5.8">0, 0, 0, 0, 0, 0, 0, 0, 0, 0, 0, 0, 0, 0</tspan><tspan x="0" dy="5.8">0, 0, 0, 0, 0, 0, 0, 0, 0, 0, 0, 0, 0, 0</tspan><tspan x="0" dy="5.8">0, 0, 0, 0, 0, 0, 0, 0, 0, 0, 0, 0, 0, 0</tspan><tspan x="0" dy="5.8">0, 0, 0, 0, 0, 0, 0, 0, 0, 0, 0, 0, 0, 0</tspan><tspan x="0" dy="5.8">0, 0, 0, 0, 0, 0, 0, 0, 0, 0, 0, 0, 0, 0</tspan><tspan x="0" dy="5.8">0, 0, 0, 0, 0, 0, 0, 0, 0, 0, 0, 0, 0, 0</tspan><tspan x="0" dy="5.8">0, 0, 0, 0, 0, 0, 0, 0, 0, 0, 0, 0, 0, 0</tspan><tspan x="0" dy="5.8">0, 0, 0, 0, 0, 0, 0, 0, 0, 0, 0, 0, 0, 0</tspan><tspan x="0" dy="5.8">0, 0, 0, 0, 0, 0, 0, 0, 0, 0, 0, 0, 0, 0</tspan><tspan x="0" dy="5.8">0, 0, 0, 0, 0, 0, 0, 0, 0, 0, 0, 0, 0, 0</tspan><tspan x="0" dy="5.8">0, 0, 0, 0, 0, 0, 0, 0, 0, 0, 0, 0, 0, 0</tspan><tspan x="0" dy="5.8">0, 0, 0, 0, 0, 0, 0, 0, 0, 0, 0, 0, 0, 0</tspan><tspan x="0" dy="5.8">0, 0, 0, 0, 0, 0, 0, 0, 0, 0, 0, 0, 0, 0</tspan><tspan x="0" dy="5.8">0, 0, 0, 0, 0, 0, 0, 0, 0, 0, 0, 0, 0, 0</tspan><tspan x="0" dy="5.8">0, 0, 0, 0, 0, 0, 0, 0, 0, 0, 0, 0, 0, 0</tspan><tspan x="0" dy="5.8">0, 0, 0, 0, 0, 0, 0, 0, 0, 0, 0, 0, 0, 0</tspan><tspan x="0" dy="5.8">0, 0, 0, 0, 0, 0, 0, 0, 0, 0, 0, 0, 0, 0</tspan><tspan x="0" dy="5.8">0, 0, 0, 0, 0, 0, 0, 0, 0, 0, 0, 0, 0, 0</tspan><tspan x="0" dy="5.8">0, 0, 0, 0, 0, 0, 0, 0, 0, 0, 0, 0, 0, 0</tspan><tspan x="0" dy="5.8">0, 0, 0, 0, 0, 0, 0, 0, 0, 0, 0, 0, 0, 0]</tspan></text></g>

<g id="leaf4" transform="translate(688,1336)"><rect class="b" x="-59.75" width="119.5" height="207" fill="#8ce539"/><text class="t" y="6.65"><tspan x="0">gini = 0.0</tspan><tspan x="0" dy="5.8">samples = 2</tspan><tspan x="0" dy="5.8">value = [0, 0, 0, 0, 0, 0, 0, 0, 0, 0, 0, 0, 0, 0</tspan><tspan x="0" dy="5.8">0, 0, 0, 0, 0, 0, 0, 0, 0, 0, 0, 0, 0, 0</tspan><tspan x="0" dy="5.8">0, 0, 0, 0, 0, 0, 0, 0, 0, 0, 0, 0, 0, 0</tspan><tspan x="0" dy="5.8">0, 0, 0, 0, 0, 0, 0, 0, 0, 0, 0, 0, 0, 0</tspan><tspan x="0" dy="5.8">0, 0, 0, 0, 0, 0, 0, 0, 0, 0, 0, 0, 0, 0</tspan><tspan x="0" dy="5.8">0, 0, 0, 0, 0, 0, 0, 0, 0, 0, 0, 0, 0, 0</tspan><tspan x="0" dy="5.8">0, 0, 2, 0, 0, 0, 0, 0, 0, 0, 0, 0, 0, 0</tspan><tspan x="0" dy="5.8">0, 0, 0, 0, 0, 0, 0, 0, 0, 0, 0, 0, 0, 0</tspan><tspan x="0" dy="5.8">0, 0, 0, 0, 0, 0, 0, 0, 0, 0, 0, 0, 0, 0</tspan><tspan x="0" dy="5.8">0, 0, 0, 0, 0, 0, 0, 0, 0, 0, 0, 0, 0, 0</tspan><tspan x="0" dy="5.8">0, 0, 0, 0, 0, 0, 0, 0, 0, 0, 0, 0, 0, 0</tspan><tspan x="0" dy="5.8">0, 0, 0, 0, 0, 0, 0, 0, 0, 0, 0, 0, 0, 0</tspan><tspan x="0" dy="5.8">0, 0, 0, 0, 0, 0, 0, 0, 0, 0, 0, 0, 0, 0</tspan><tspan x="0" dy="5.8">0, 0, 0, 0, 0, 0, 0, 0, 0, 0, 0, 0, 0, 0</tspan><tspan x="0" dy="5.8">0, 0, 0, 0, 0, 0, 0, 0, 0, 0, 0, 0, 0, 0</tspan><tspan x="0" dy="5.8">0, 0, 0, 0, 0, 0, 0, 0, 0, 0, 0, 0, 0, 0</tspan><tspan x="0" dy="5.8">0, 0, 0, 0, 0, 0, 0, 0, 0, 0, 0, 0, 0, 0</tspan><tspan x="0" dy="5.8">0, 0, 0, 0, 0, 0, 0, 0, 0, 0, 0, 0, 0, 0</tspan><tspan x="0" dy="5.8">0, 0, 0, 0, 0, 0, 0, 0, 0, 0, 0, 0, 0, 0</tspan><tspan x="0" dy="5.8">0, 0, 0, 0, 0, 0, 0, 0, 0, 0, 0, 0, 0, 0</tspan><tspan x="0" dy="5.8">0, 0, 0, 0, 0, 0, 0, 0, 0, 0, 0, 0, 0, 0</tspan><tspan x="0" dy="5.8">0, 0, 0, 0, 0, 0, 0, 0, 0, 0, 0, 0, 0, 0</tspan><tspan x="0" dy="5.8">0, 0, 0, 0, 0, 0, 0, 0, 0, 0, 0, 0, 0, 0</tspan><tspan x="0" dy="5.8">0, 0, 0, 0, 0, 0, 0, 0, 0, 0, 0, 0, 0, 0</tspan><tspan x="0" dy="5.8">0, 0, 0, 0, 0, 0, 0, 0, 0, 0, 0, 0, 0, 0</tspan><tspan x="0" dy="5.8">0, 0, 0, 0, 0, 0, 0, 0, 0, 0, 0, 0, 0, 0</tspan><tspan x="0" dy="5.8">0, 0, 0, 0, 0, 0, 0, 0, 0, 0, 0, 0, 0, 0</tspan><tspan x="0" dy="5.8">0, 0, 0, 0, 0, 0, 0, 0, 0, 0, 0, 0, 0, 0</tspan><tspan x="0" dy="5.8">0, 0, 0, 0, 0, 0, 0, 0, 0, 0, 0, 0, 0, 0</tspan><tspan x="0" dy="5.8">0, 0, 0, 0, 0, 0, 0, 0, 0, 0, 0, 0, 0, 0</tspan><tspan x="0" dy="5.8">0, 0, 0, 0, 0, 0, 0, 0, 0, 0, 0, 0, 0, 0</tspan><tspan x="0" dy="5.8">0, 0, 0, 0, 0, 0, 0, 0, 0, 0, 0, 0, 0, 0</tspan><tspan x="0" dy="5.8">0, 0, 0, 0, 0, 0, 0, 0, 0, 0, 0, 0, 0, 0]</tspan></text></g>

<g id="node4" transform="translate(987,789)"><rect class="b" x="-61" width="122" height="212" fill="#ffffff"/><text class="t" y="6.25"><tspan x="0">Neighborhood &lt;= 1482.0</tspan><tspan x="0" dy="5.8">gini = 0.989</tspan><tspan x="0" dy="5.8">samples = 219</tspan><tspan x="0" dy="5.8">value = [0, 1, 0, 1, 0, 0, 0, 0, 0, 0, 0, 0, 0, 0</tspan><tspan x="0" dy="5.8">0, 0, 1, 0, 0, 1, 1, 0, 1, 0, 0, 0, 0, 1</tspan><tspan x="0" dy="5.8">0, 1, 0, 1, 0, 0, 0, 1, 0, 1, 1, 0, 3, 0</tspan><tspan x="0" dy="5.8">0, 1, 0, 0, 0, 1, 0, 0, 0, 1, 0, 0, 0, 1</tspan><tspan x="0" dy="5.8">0, 1, 1, 1, 1, 0, 1, 0, 1, 2, 1, 4, 1, 0</tspan><tspan x="0" dy="5.8">0, 1, 2, 1, 2, 0, 0, 5, 1, 1, 1, 1, 3, 0</tspan><tspan x="0" dy="5.8">0, 1, 0, 1, 2, 1, 1, 4, 0, 1, 1, 1, 0, 2</tspan><tspan x="0" dy="5.8">1, 0, 0, 1, 2, 2, 1, 1, 0, 1, 1, 4, 1, 1</tspan><tspan x="0" dy="5.8">2, 2, 0, 1, 0, 3, 0, 1, 1, 0, 0, 3, 0, 1</tspan><tspan x="0" dy="5.8">0, 0, 0, 0, 2, 0, 0, 3, 2, 0, 1, 9, 1, 2</tspan><tspan x="0" dy="5.8">1, 3, 1, 2, 0, 0, 2, 1, 1, 3, 0, 3, 1, 1</tspan><tspan x="0" dy="5.8">1, 0, 4, 1, 5, 0, 0, 1, 1, 1, 2, 0, 0, 0</tspan><tspan x="0" dy="5.8">0, 2, 1, 2, 0, 0, 0, 0, 1, 8, 0, 0, 1, 1</tspan><tspan x="0" dy="5.8">0, 2, 0, 1, 0, 1, 2, 1, 0, 2, 0, 0, 2, 1</tspan><tspan x="0" dy="5.8">0, 0, 1, 1, 1, 0, 2, 1, 3, 0, 0, 0, 1, 0</tspan><tspan x="0" dy="5.8">0, 0, 2, 0, 0, 0, 0, 0, 0, 0, 0, 0, 0, 1</tspan><tspan x="0" dy="5.8">1, 1, 0, 2, 0, 0, 0, 1, 0, 0, 0, 0, 0, 0</tspan><tspan x="0" dy="5.8">0, 0, 0, 0, 0, 0, 0, 0, 0, 0, 0, 0, 0, 0</tspan><tspan x="0" dy="5.8">0, 0, 1, 0, 0, 0, 0, 0, 0, 1, 0, 0, 0, 0</tspan><tspan x="0" dy="5.8">0, 0, 0, 0, 0, 1, 0, 0, 0, 0, 0, 0, 0, 0</tspan><tspan x="0" dy="5.8">1, 0, 0, 0, 0, 0, 0, 0, 0, 0, 0, 0, 1, 0</tspan><tspan x="0" dy="5.8">0, 0, 0, 1, 0, 0, 0, 0, 0, 0, 0, 0, 1, 0</tspan><tspan x="0" dy="5.8">0, 0, 1, 0, 0, 0, 0, 0, 0, 0, 0, 0, 0, 0</tspan><tspan x="0" dy="5.8">1, 0, 0, 0, 0, 0, 0, 0, 0, 0, 0, 0, 0, 0</tspan><tspan x="0" dy="5.8">1, 0, 0, 0, 1, 0, 0, 0, 0, 0, 0, 0, 0, 0</tspan><tspan x="0" dy="5.8">0, 0, 0, 0, 0, 0, 0, 0, 0, 0, 0, 0, 0, 0</tspan><tspan x="0" dy="5.8">0, 0, 0, 0, 0, 0, 0, 0, 0, 0, 0, 0, 1, 0</tspan><tspan x="0" dy="5.8">0, 1, 0, 0, 0, 0, 0, 0, 0, 0, 0, 0, 0, 0</tspan><tspan x="0" dy="5.8">0, 1, 0, 0, 0, 0, 0, 0, 0, 0, 0, 0, 0, 0</tspan><tspan x="0" dy="5.8">0, 0, 0, 0, 0, 1, 0, 0, 0, 0, 0, 0, 1, 0</tspan><tspan x="0" dy="5.8">0, 1, 0, 0, 0, 0, 0, 0, 0, 0, 0, 0, 0, 1</tspan><tspan x="0" dy="5.8">0, 0, 0, 0, 0, 0, 0, 0, 1, 0, 0, 0, 0, 0</tspan><tspan x="0" dy="5.8">0, 0, 0, 1, 0, 0, 0, 0, 0, 0, 0, 0, 0, 0]</tspan></text></g>

<g id="node9" transform="translate(868.5,1061)"><rect class="b" x="-61.5" width="123" height="212" fill="#ffffff"/><text class="t" y="6.25"><tspan x="0">BsmtCond &lt;= 227.0</tspan><tspan x="0" dy="5.8">gini = 0.987</tspan><tspan x="0" dy="5.8">samples = 194</tspan><tspan x="0" dy="5.8">value = [0, 1, 0, 1, 0, 0, 0, 0, 0, 0, 0, 0, 0, 0</tspan><tspan x="0" dy="5.8">0, 0, 1, 0, 0, 1, 1, 0, 1, 0, 0, 0, 0, 1</tspan><tspan x="0" dy="5.8">0, 1, 0, 1, 0, 0, 0, 1, 0, 1, 1, 0, 3, 0</tspan><tspan x="0" dy="5.8">0, 1, 0, 0, 0, 1, 0, 0, 0, 1, 0, 0, 0, 1</tspan><tspan x="0" dy="5.8">0, 1, 1, 1, 1, 0, 1, 0, 1, 2, 1, 3, 1, 0</tspan><tspan x="0" dy="5.8">0, 1, 2, 1, 2, 0, 0, 5, 1, 1, 1, 1, 3, 0</tspan><tspan x="0" dy="5.8">0, 1, 0, 1, 2, 1, 1, 4, 0, 1, 1, 1, 0, 2</tspan><tspan x="0" dy="5.8">1, 0, 0, 1, 2, 2, 1, 1, 0, 1, 1, 4, 1, 1</tspan><tspan x="0" dy="5.8">2, 2, 0, 1, 0, 3, 0, 1, 1, 0, 0, 3, 0, 1</tspan><tspan x="0" dy="5.8">0, 0, 0, 0, 2, 0, 0, 3, 2, 0, 1, 9, 1, 2</tspan><tspan x="0" dy="5.8">1, 3, 1, 2, 0, 0, 2, 1, 1, 3, 0, 3, 1, 1</tspan><tspan x="0" dy="5.8">1, 0, 4, 1, 5, 0, 0, 1, 1, 1, 2, 0, 0, 0</tspan><tspan x="0" dy="5.8">0, 2, 1, 2, 0, 0, 0, 0, 1, 8, 0, 0, 1, 1</tspan><tspan x="0" dy="5.8">0, 2, 0, 1, 0, 1, 2, 1, 0, 2, 0, 0, 2, 1</tspan><tspan x="0" dy="5.8">0, 0, 1, 1, 1, 0, 2, 1, 3, 0, 0, 0, 1, 0</tspan><tspan x="0" dy="5.8">0, 0, 2, 0, 0, 0, 0, 0, 0, 0, 0, 0, 0, 1</tspan><tspan x="0" dy="5.8">1, 1, 0, 2, 0, 0, 0, 1, 0, 0, 0, 0, 0, 0</tspan><tspan x="0" dy="5.8">0, 0, 0, 0, 0, 0, 0, 0, 0, 0, 0, 0, 0, 0</tspan><tspan x="0" dy="5.8">0, 0, 1, 0, 0, 0, 0, 0, 0, 0, 0, 0, 0, 0</tspan><tspan x="0" dy="5.8">0, 0, 0, 0, 0, 1, 0, 0, 0, 0, 0, 0, 0, 0</tspan><tspan x="0" dy="5.8">1, 0, 0, 0, 0, 0, 0, 0, 0, 0, 0, 0, 1, 0</tspan><tspan x="0" dy="5.8">0, 0, 0, 1, 0, 0, 0, 0, 0, 0, 0, 0, 0, 0</tspan><tspan x="0" dy="5.8">0, 0, 1, 0, 0, 0, 0, 0, 0, 0, 0, 0, 0, 0</tspan><tspan x="0" dy="5.8">1, 0, 0, 0, 0, 0, 0, 0, 0, 0, 0, 0, 0, 0</tspan><tspan x="0" dy="5.8">1, 0, 0, 0, 0, 0, 0, 0, 0, 0, 0, 0, 0, 0</tspan><tspan x="0" dy="5.8">0, 0, 0, 0, 0, 0, 0, 0, 0, 0, 0, 0, 0, 0</tspan><tspan x="0" dy="5.8">0, 0, 0, 0, 0, 0, 0, 0, 0, 0, 0, 0, 1, 0</tspan><tspan x="0" dy="5.8">0, 1, 0, 0, 0, 0, 0, 0, 0, 0, 0, 0, 0, 0</tspan><tspan x="0" dy="5.8">0, 0, 0, 0, 0, 0, 0, 0, 0, 0, 0, 0, 0, 0</tspan><tspan x="0" dy="5.8">0, 0, 0, 0, 0, 1, 0, 0, 0, 0, 0, 0, 1, 0</tspan><tspan x="0" dy="5.8">0, 1, 0, 0, 0, 0, 0, 0, 0, 0, 0, 0, 0, 1</tspan><tspan x="0" dy="5.8">0, 0, 0, 0, 0, 0, 0, 0, 1, 0, 0, 0, 0, 0</tspan><tspan x="0" dy="5.8">0, 0, 0, 1, 0, 0, 0, 0, 0, 0, 0, 0, 0, 0]</tspan></text></g>

<g id="leaf5" transform="translate(807.5,1336)"><rect class="b" x="-59.75" width="119.5" height="207" fill="#ffffff"/><text class="t" y="6.65"><tspan x="0">gini = 0.987</tspan><tspan x="0" dy="5.8">samples = 191</tspan><tspan x="0" dy="5.8">value = [0, 1, 0, 1, 0, 0, 0, 0, 0, 0, 0, 0, 0, 0</tspan><tspan x="0" dy="5.8">0, 0, 1, 0, 0, 1, 1, 0, 1, 0, 0, 0, 0, 1</tspan><tspan x="0" dy="5.8">0, 1, 0, 1, 0, 0, 0, 1, 0, 1, 1, 0, 3, 0</tspan><tspan x="0" dy="5.8">0, 1, 0, 0, 0, 1, 0, 0, 0, 1, 0, 0, 0, 1</tspan><tspan x="0" dy="5.8">0, 1, 1, 1, 1, 0, 1, 0, 1, 2, 1, 3, 1, 0</tspan><tspan x="0" dy="5.8">0, 1, 2, 1, 2, 0, 0, 5, 1, 1, 1, 1, 3, 0</tspan><tspan x="0" dy="5.8">0, 1, 0, 1, 2, 1, 1, 4, 0, 1, 1, 1, 0, 2</tspan><tspan x="0" dy="5.8">1, 0, 0, 1, 2, 2, 1, 1, 0, 1, 1, 4, 1, 1</tspan><tspan x="0" dy="5.8">2, 2, 0, 1, 0, 3, 0, 1, 1, 0, 0, 3, 0, 1</tspan><tspan x="0" dy="5.8">0, 0, 0, 0, 2, 0, 0, 3, 2, 0, 1, 9, 1, 2</tspan><tspan x="0" dy="5.8">1, 3, 1, 2, 0, 0, 2, 1, 1, 3, 0, 3, 1, 1</tspan><tspan x="0" dy="5.8">1, 0, 4, 1, 5, 0, 0, 1, 1, 1, 2, 0, 0, 0</tspan><tspan x="0" dy="5.8">0, 2, 1, 2, 0, 0, 0, 0, 1, 8, 0, 0, 1, 1</tspan><tspan x="0" dy="5.8">0, 2, 0, 1, 0, 1, 2, 1, 0, 2, 0, 0, 2, 1</tspan><tspan x="0" dy="5.8">0, 0, 1, 1, 1, 0, 2, 1, 3, 0, 0, 0, 1, 0</tspan><tspan x="0" dy="5.8">0, 0, 2, 0, 0, 0, 0, 0, 0, 0, 0, 0, 0, 1</tspan><tspan x="0" dy="5.8">1, 1, 0, 2, 0, 0, 0, 1, 0, 0, 0, 0, 0, 0</tspan><tspan x="0" dy="5.8">0, 0, 0, 0, 0, 0, 0, 0, 0, 0, 0, 0, 0, 0</tspan><tspan x="0" dy="5.8">0, 0, 1, 0, 0, 0, 0, 0, 0, 0, 0, 0, 0, 0</tspan><tspan x="0" dy="5.8">0, 0, 0, 0, 0, 1, 0, 0, 0, 0, 0, 0, 0, 0</tspan><tspan x="0" dy="5.8">1, 0, 0, 0, 0, 0, 0, 0, 0, 0, 0, 0, 1, 0</tspan><tspan x="0" dy="5.8">0, 0, 0, 1, 0, 0, 0, 0, 0, 0, 0, 0, 0, 0</tspan><tspan x="0" dy="5.8">0, 0, 1, 0, 0, 0, 0, 0, 0, 0, 0, 0, 0, 0</tspan><tspan x="0" dy="5.8">1, 0, 0, 0, 0, 0, 0, 0, 0, 0, 0, 0, 0, 0</tspan><tspan x="0" dy="5.8">1, 0, 0, 0, 0, 0, 0, 0, 0, 0, 0, 0, 0, 0</tspan><tspan x="0" dy="5.8">0, 0, 0, 0, 0, 0, 0, 0, 0, 0, 0, 0, 0, 0</tspan><tspan x="0" dy="5.8">0, 0, 0, 0, 0, 0, 0, 0, 0, 0, 0, 0, 1, 0</tspan><tspan x="0" dy="5.8">0, 1, 0, 0, 0, 0, 0, 0, 0, 0, 0, 0, 0, 0</tspan><tspan x="0" dy="5.8">0, 0, 0, 0, 0, 0, 0, 0, 0, 0, 0, 0, 0, 0</tspan><tspan x="0" dy="5.8">0, 0, 0, 0, 0, 1, 0, 0, 0, 0, 0, 0, 0, 0</tspan><tspan x="0" dy="5.8">0, 1, 0, 0, 0, 0, 0, 0, 0, 0, 0, 0, 0, 1</tspan><tspan x="0" dy="5.8">0, 0, 0, 0, 0, 0, 0, 0, 1, 0, 0, 0, 0, 0</tspan><tspan x="0" dy="5.8">0, 0, 0, 1, 0, 0, 0, 0, 0, 0, 0, 0, 0, 0]</tspan></text></g>

<g id="leaf6" transform="translate(926.5,1336)"><rect class="b" x="-59.75" width="119.5" height="207" fill="#9cf2d6"/><text class="t" y="6.65"><tspan x="0">gini = 0.444</tspan><tspan x="0" dy="5.8">samples = 3</tspan><tspan x="0" dy="5.8">value = [0, 0, 0, 0, 0, 0, 0, 0, 0, 0, 0, 0, 0, 0</tspan><tspan x="0" dy="5.8">0, 0, 0, 0, 0, 0, 0, 0, 0, 0, 0, 0, 0, 0</tspan><tspan x="0" dy="5.8">0, 0, 0, 0, 0, 0, 0, 0, 0, 0, 0, 0, 0, 0</tspan><tspan x="0" dy="5.8">0, 0, 0, 0, 0, 0, 0, 0, 0, 0, 0, 0, 0, 0</tspan><tspan x="0" dy="5.8">0, 0, 0, 0, 0, 0, 0, 0, 0, 0, 0, 1, 0, 0</tspan><tspan x="0" dy="5.8">0, 0, 0, 0, 0, 0, 0, 0, 0, 0, 0, 0, 0, 0</tspan><tspan x="0" dy="5.8">0, 0, 0, 0, 0, 0, 0, 0, 0, 0, 0, 0, 0, 0</tspan><tspan x="0" dy="5.8">0, 0, 0, 0, 0, 0, 0, 0, 0, 0, 0, 0, 0, 0</tspan><tspan x="0" dy="5.8">0, 0, 0, 0, 0, 0, 0, 0, 0, 0, 0, 0, 0, 0</tspan><tspan x="0" dy="5.8">0, 0, 0, 0, 0, 0, 0, 0, 0, 0, 0, 0, 0, 0</tspan><tspan x="0" dy="5.8">0, 0, 0, 0, 0, 0, 0, 0, 0, 0, 0, 0, 0, 0</tspan><tspan x="0" dy="5.8">0, 0, 0, 0, 0, 0, 0, 0, 0, 0, 0, 0, 0, 0</tspan><tspan x="0" dy="5.8">0, 0, 0, 0, 0, 0, 0, 0, 0, 0, 0, 0, 0, 0</tspan><tspan x="0" dy="5.8">0, 0, 0, 0, 0, 0, 0, 0, 0, 0, 0, 0, 0, 0</tspan><tspan x="0" dy="5.8">0, 0, 0, 0, 0, 0, 0, 0, 0, 0, 0, 0, 0, 0</tspan><tspan x="0" dy="5.8">0, 0, 0, 0, 0, 0, 0, 0, 0, 0, 0, 0, 0, 0</tspan><tspan x="0" dy="5.8">0, 0, 0, 0, 0, 0, 0, 0, 0, 0, 0, 0, 0, 0</tspan><tspan x="0" dy="5.8">0, 0, 0, 0, 0, 0, 0, 0, 0, 0, 0, 0, 0, 0</tspan><tspan x="0" dy="5.8">0, 0, 0, 0, 0, 0, 0, 0, 0, 1, 0, 0, 0, 0</tspan><tspan x="0" dy="5.8">0, 0, 0, 0, 0, 0, 0, 0, 0, 0, 0, 0, 0, 0</tspan><tspan x="0" dy="5.8">0, 0, 0, 0, 0, 0, 0, 0, 0, 0, 0, 0, 0, 0</tspan><tspan x="0" dy="5.8">0, 0, 0, 0, 0, 0, 0, 0, 0, 0, 0, 0, 1, 0</tspan><tspan x="0" dy="5.8">0, 0, 0, 0, 0, 0, 0, 0, 0, 0, 0, 0, 0, 0</tspan><tspan x="0" dy="5.8">0, 0, 0, 0, 0, 0, 0, 0, 0, 0, 0, 0, 0, 0</tspan><tspan x="0" dy="5.8">0, 0, 0, 0, 1, 0, 0, 0, 0, 0, 0, 0, 0, 0</tspan><tspan x="0" dy="5.8">0, 0, 0, 0, 0, 0, 0, 0, 0, 0, 0, 0, 0, 0</tspan><tspan x="0" dy="5.8">0, 0, 0, 0, 0, 0, 0, 0, 0, 0, 0, 0, 0, 0</tspan><tspan x="0" dy="5.8">0, 0, 0, 0, 0, 0, 0, 0, 0, 0, 0, 0, 0, 0</tspan><tspan x="0" dy="5.8">0, 1, 0, 0, 0, 0, 0, 0, 0, 0, 0, 0, 0, 0</tspan><tspan x="0" dy="5.8">0, 0, 0, 0, 0, 0, 0, 0, 0, 0, 0, 0, 0, 0</tspan><tspan x="0" dy="5.8">0, 0, 0, 0, 0, 0, 0, 0, 0, 0, 0, 0, 0, 0</tspan><tspan x="0" dy="5.8">0, 0, 0, 0, 0, 0, 0, 0, 0, 0, 0, 0, 0, 0</tspan><tspan x="0" dy="5.8">0, 0, 0, 0, 0, 0, 0, 0, 0, 0, 0, 0, 0, 0]</tspan></text></g>

<g id="node10" transform="translate(1107,1061)"><rect class="b" x="-61" width="122" height="212" fill="#f5fcfe"/><text class="t" y="6.25"><tspan x="0">ExterCond &lt;= 14.0</tspan><tspan x="0" dy="5.8">gini = 0.947</tspan><tspan x="0" dy="5.8">samples = 25</tspan><tspan x="0" dy="5.8">value = [0, 0, 0, 0, 0, 0, 0, 0, 0, 0, 0, 0, 0, 0</tspan><tspan x="0" dy="5.8">0, 0, 0, 0, 0, 0, 0, 0, 0, 0, 0, 0, 0, 0</tspan><tspan x="0" dy="5.8">0, 0, 0, 0, 0, 0, 0, 0, 0, 0, 0, 0, 0, 0</tspan><tspan x="0" dy="5.8">0, 0, 0, 0, 0, 0, 0, 0, 0, 0, 0, 0, 0, 0</tspan><tspan x="0" dy="5.8">0, 0, 0, 0, 0, 0, 0, 0, 0, 0, 0, 1, 0, 0</tspan><tspan x="0" dy="5.8">0, 0, 0, 0, 0, 0, 0, 0, 0, 0, 0, 0, 0, 0</tspan><tspan x="0" dy="5.8">0, 0, 0, 0, 0, 0, 0, 0, 0, 0, 0, 0, 0, 0</tspan><tspan x="0" dy="5.8">0, 0, 0, 0, 0, 0, 0, 0, 0, 0, 0, 0, 0, 0</tspan><tspan x="0" dy="5.8">0, 0, 0, 0, 0, 0, 0, 0, 0, 0, 0, 0, 0, 0</tspan><tspan x="0" dy="5.8">0, 0, 0, 0, 0, 0, 0, 0, 0, 0, 0, 0, 0, 0</tspan><tspan x="0" dy="5.8">0, 0, 0, 0, 0, 0, 0, 0, 0, 0, 0, 0, 0, 0</tspan><tspan x="0" dy="5.8">0, 0, 0, 0, 0, 0, 0, 0, 0, 0, 0, 0, 0, 0</tspan><tspan x="0" dy="5.8">0, 0, 0, 0, 0, 0, 0, 0, 0, 0, 0, 0, 0, 0</tspan><tspan x="0" dy="5.8">0, 0, 0, 0, 0, 0, 0, 0, 0, 0, 0, 0, 0, 0</tspan><tspan x="0" dy="5.8">0, 0, 0, 0, 0, 0, 0, 0, 0, 0, 0, 0, 0, 0</tspan><tspan x="0" dy="5.8">0, 0, 0, 0, 0, 0, 0, 0, 0, 0, 0, 0, 0, 0</tspan><tspan x="0" dy="5.8">0, 0, 0, 0, 0, 0, 0, 0, 0, 0, 0, 0, 0, 0</tspan><tspan x="0" dy="5.8">1, 0, 0, 0, 0, 0, 0, 0, 0, 0, 0, 0, 0, 0</tspan><tspan x="0" dy="5.8">0, 0, 0, 0, 0, 0, 0, 0, 0, 1, 0, 0, 0, 0</tspan><tspan x="0" dy="5.8">0, 0, 0, 0, 0, 1, 0, 0, 0, 0, 0, 0, 0, 0</tspan><tspan x="0" dy="5.8">1, 0, 0, 0, 0, 0, 0, 0, 0, 0, 0, 0, 1, 0</tspan><tspan x="0" dy="5.8">0, 0, 0, 1, 0, 0, 0, 0, 0, 0, 0, 0, 1, 0</tspan><tspan x="0" dy="5.8">0, 0, 1, 0, 0, 0, 0, 0, 0, 0, 0, 0, 0, 0</tspan><tspan x="0" dy="5.8">1, 0, 0, 0, 0, 0, 0, 0, 0, 0, 0, 0, 0, 0</tspan><tspan x="0" dy="5.8">1, 0, 0, 0, 1, 0, 0, 0, 0, 0, 0, 0, 0, 0</tspan><tspan x="0" dy="5.8">0, 0, 0, 0, 0, 0, 0, 0, 0, 0, 0, 0, 0, 0</tspan><tspan x="0" dy="5.8">0, 0, 0, 0, 0, 0, 0, 0, 0, 0, 0, 0, 1, 0</tspan><tspan x="0" dy="5.8">0, 1, 0, 0, 0, 0, 0, 0, 0, 0, 0, 0, 0, 0</tspan><tspan x="0" dy="5.8">0, 1, 0, 0, 0, 0, 0, 0, 0, 0, 0, 0, 0, 0</tspan><tspan x="0" dy="5.8">0, 0, 0, 0, 0, 1, 0, 0, 0, 0, 0, 0, 1, 0</tspan><tspan x="0" dy="5.8">0, 1, 0, 0, 0, 0, 0, 0, 0, 0, 0, 0, 0, 1</tspan><tspan x="0" dy="5.8">0, 0, 0, 0, 0, 0, 0, 0, 1, 0, 0, 0, 0, 0</tspan><tspan x="0" dy="5.8">0, 0, 0, 1, 0, 0, 0, 0, 0, 0, 0, 0, 0, 0]</tspan></text></g>

<g id="leaf7" transform="translate(1046,1336)"><rect class="b" x="-59.75" width="119.5" height="207" fill="#bdf1f6"/><text class="t" y="6.65"><tspan x="0">gini = 0.735</tspan><tspan x="0" dy="5.8">samples = 7</tspan><tspan x="0" dy="5.8">value = [0, 0, 0, 0, 0, 0, 0, 0, 0, 0, 0, 0, 0, 0</tspan><tspan x="0" dy="5.8">0, 0, 0, 0, 0, 0, 0, 0, 0, 0, 0, 0, 0, 0</tspan><tspan x="0" dy="5.8">0, 0, 0, 0, 0, 0, 0, 0, 0, 0, 0, 0, 0, 0</tspan><tspan x="0" dy="5.8">0, 0, 0, 0, 0, 0, 0, 0, 0, 0, 0, 0, 0, 0</tspan><tspan x="0" dy="5.8">0, 0, 0, 0, 0, 0, 0, 0, 0, 0, 0, 1, 0, 0</tspan><tspan x="0" dy="5.8">0, 0, 0, 0, 0, 0, 0, 0, 0, 0, 0, 0, 0, 0</tspan><tspan x="0" dy="5.8">0, 0, 0, 0, 0, 0, 0, 0, 0, 0, 0, 0, 0, 0</tspan><tspan x="0" dy="5.8">0, 0, 0, 0, 0, 0, 0, 0, 0, 0, 0, 0, 0, 0</tspan><tspan x="0" dy="5.8">0, 0, 0, 0, 0, 0, 0, 0, 0, 0, 0, 0, 0, 0</tspan><tspan x="0" dy="5.8">0, 0, 0, 0, 0, 0, 0, 0, 0, 0, 0, 0, 0, 0</tspan><tspan x="0" dy="5.8">0, 0, 0, 0, 0, 0, 0, 0, 0, 0, 0, 0, 0, 0</tspan><tspan x="0" dy="5.8">0, 0, 0, 0, 0, 0, 0, 0, 0, 0, 0, 0, 0, 0</tspan><tspan x="0" dy="5.8">0, 0, 0, 0, 0, 0, 0, 0, 0, 0, 0, 0, 0, 0</tspan><tspan x="0" dy="5.8">0, 0, 0, 0, 0, 0, 0, 0, 0, 0, 0, 0, 0, 0</tspan><tspan x="0" dy="5.8">0, 0, 0, 0, 0, 0, 0, 0, 0, 0, 0, 0, 0, 0</tspan><tspan x="0" dy="5.8">0, 0, 0, 0, 0, 0, 0, 0, 0, 0, 0, 0, 0, 0</tspan><tspan x="0" dy="5.8">0, 0, 0, 0, 0, 0, 0, 0, 0, 0, 0, 0, 0, 0</tspan><tspan x="0" dy="5.8">1, 0, 0, 0, 0, 0, 0, 0, 0, 0, 0, 0, 0, 0</tspan><tspan x="0" dy="5.8">0, 0, 0, 0, 0, 0, 0, 0, 0, 3, 0, 0, 0, 0</tspan><tspan x="0" dy="5.8">0, 0, 0, 0, 0, 0, 0, 0, 0, 0, 0, 0, 0, 0</tspan><tspan x="0" dy="5.8">0, 0, 0, 0, 0, 0, 0, 0, 0, 0, 0, 0, 0, 0</tspan><tspan x="0" dy="5.8">0, 0, 0, 0, 0, 0, 0, 0, 0, 0, 0, 0, 0, 0</tspan><tspan x="0" dy="5.8">0, 0, 0, 0, 0, 0, 0, 0, 0, 0, 0, 0, 0, 0</tspan><tspan x="0" dy="5.8">0, 0, 0, 0, 0, 0, 0, 0, 0, 0, 0, 0, 0, 0</tspan><tspan x="0" dy="5.8">0, 0, 0, 0, 0, 0, 0, 0, 0, 0, 0, 0, 0, 0</tspan><tspan x="0" dy="5.8">0, 0, 0, 0, 0, 0, 0, 0, 0, 0, 0, 0, 0, 0</tspan><tspan x="0" dy="5.8">0, 0, 0, 0, 0, 0, 0, 0, 0, 0, 0, 0, 0, 0</tspan><tspan x="0" dy="5.8">0, 0, 0, 0, 0, 0, 0, 0, 0, 0, 0, 0, 0, 0</tspan><tspan x="0" dy="5.8">0, 0, 0, 0, 0, 0, 0, 0, 0, 0, 0, 0, 0, 0</tspan><tspan x="0" dy="5.8">0, 0, 0, 0, 0, 0, 0, 0, 0, 0, 0, 0, 0, 0</tspan><tspan x="0" dy="5.8">0, 1, 0, 0, 0, 0, 0, 0, 0, 0, 0, 0, 0, 0</tspan><tspan x="0" dy="5.8">0, 0, 0, 0, 0, 0, 0, 0, 0, 0, 0, 0, 0, 0</tspan><tspan x="0" dy="5.8">0, 0, 0, 0, 0, 0, 0, 0, 0, 0, 0, 0, 0, 0]</tspan></text></g>

<g id="leaf8" transform="translate(1165.5,1336)"><rect class="b" x="-59.75" width="119.5" height="207" fill="#f5fcfe"/><text class="t" y="6.65"><tspan x="0">gini = 0.938</tspan><tspan x="0" dy="5.8">samples = 18</tspan><tspan x="0" dy="5.8">value = [0, 0, 0, 0, 0, 0, 0, 0, 0, 0, 0, 0, 0, 0</tspan><tspan x="0" dy="5.8">0, 0, 0, 0, 0, 0, 0, 0, 0, 0, 0, 0, 0, 0</tspan><tspan x="0" dy="5.8">0, 0, 0, 0, 0, 0, 0, 0, 0, 0, 0, 0, 0, 0</tspan><tspan x="0" dy="5.8">0, 0, 0, 0, 0, 0, 0, 0, 0, 0, 0, 0, 0, 0</tspan><tspan x="0" dy="5.8">0, 0, 0, 0, 0, 0, 0, 0, 0, 0, 0, 0, 0, 0</tspan><tspan x="0" dy="5.8">0, 0, 0, 0, 0, 0, 0, 0, 0, 0, 0, 0, 0, 0</tspan><tspan x="0" dy="5.8">0, 0, 0, 0, 0, 0, 0, 0, 0, 0, 0, 0, 0, 0</tspan><tspan x="0" dy="5.8">0, 0, 0, 0, 0, 0, 0, 0, 0, 0, 0, 0, 0, 0</tspan><tspan x="0" dy="5.8">0, 0, 0, 0, 0, 0, 0, 0, 0, 0, 0, 0, 0, 0</tspan><tspan x="0" dy="5.8">0, 0, 0, 0, 0, 0, 0, 0, 0, 0, 0, 0, 0, 0</tspan><tspan x="0" dy="5.8">0, 0, 0, 0, 0, 0, 0, 0, 0, 0, 0, 0, 0, 0</tspan><tspan x="0" dy="5.8">0, 0, 0, 0, 0, 0, 0, 0, 0, 0, 0, 0, 0, 0</tspan><tspan x="0" dy="5.8">0, 0, 0, 0, 0, 0, 0, 0, 0, 0, 0, 0, 0, 0</tspan><tspan x="0" dy="5.8">0, 0, 0, 0, 0, 0, 0, 0, 0, 0, 0, 0, 0, 0</tspan><tspan x="0" dy="5.8">0, 0, 0, 0, 0, 0, 0, 0, 0, 0, 0, 0, 0, 0</tspan><tspan x="0" dy="5.8">0, 0, 0, 0, 0, 0, 0, 0, 0, 0, 0, 0, 0, 0</tspan><tspan x="0" dy="5.8">0, 0, 0, 0, 0, 0, 0, 0, 0, 0, 0, 0, 0, 0</tspan><tspan x="0" dy="5.8">0, 0, 0, 0, 0, 0, 0, 0, 0, 0, 0, 0, 0, 0</tspan><tspan x="0" dy="5.8">0, 0, 0, 0, 0, 0, 0, 0, 0, 0, 0, 0, 0, 0</tspan><tspan x="0" dy="5.8">0, 0, 0, 0, 0, 1, 0, 0, 0, 0, 0, 0, 0, 0</tspan><tspan x="0" dy="5.8">1, 0, 0, 0, 0, 0, 0, 0, 0, 0, 0, 0, 1, 0</tspan><tspan x="0" dy="5.8">0, 0, 0, 1, 0, 0, 0, 0, 0, 0, 0, 0, 1, 0</tspan><tspan x="0" dy="5.8">0, 0, 1, 0, 0, 0, 0, 0, 0, 0, 0, 0, 0, 0</tspan><tspan x="0" dy="5.8">1, 0, 0, 0, 0, 0, 0, 0, 0, 0, 0, 0, 0, 0</tspan><tspan x="0" dy="5.8">1, 0, 0, 0, 1, 0, 0, 0, 0, 0, 0, 0, 0, 0</tspan><tspan x="0" dy="5.8">0, 0, 0, 0, 0, 0, 0, 0, 0, 0, 0, 0, 0, 0</tspan><tspan x="0" dy="5.8">0, 0, 0, 0, 0, 0, 0, 0, 0, 0, 0, 0, 1, 0</tspan><tspan x="0" dy="5.8">0, 1, 0, 0, 0, 0, 0, 0, 0, 0, 0, 0, 0, 0</tspan><tspan x="0" dy="5.8">0, 1, 0, 0, 0, 0, 0, 0, 0, 0, 0, 0, 0, 0</tspan><tspan x="0" dy="5.8">0, 0, 0, 0, 0, 1, 0, 0, 0, 0, 0, 0, 1, 0</tspan><tspan x="0" dy="5.8">0, 0, 0, 0, 0, 0, 0, 0, 0, 0, 0, 0, 0, 1</tspan><tspan x="0" dy="5.8">0, 0, 0, 0, 0, 0, 0, 0, 1, 0, 0, 0, 0, 0</tspan><tspan x="0" dy="5.8">0, 0, 0, 1, 0, 0, 0, 0, 0, 0, 0, 0, 0, 0]</tspan></text></g>

<g id="node2" transform="translate(1555.5,518)"><rect class="b" x="-60.5" width="121" height="212" fill="#ffffff"/><text class="t" y="6.25"><tspan x="0">Neighborhood &lt;= 606.0</tspan><tspan x="0" dy="5.8">gini = 0.996</tspan><tspan x="0" dy="5.8">samples = 433</tspan><tspan x="0" dy="5.8">value = [0, 0, 0, 0, 0, 1, 0, 0, 0, 0, 0, 0, 0, 0</tspan><tspan x="0" dy="5.8">0, 0, 0, 1, 0, 0, 0, 1, 0, 0, 0, 1, 0, 0</tspan><tspan x="0" dy="5.8">0, 0, 1, 0, 0, 0, 0, 0, 1, 0, 0, 1, 0, 0</tspan><tspan x="0" dy="5.8">1, 0, 0, 0, 1, 0, 0, 0, 1, 0, 0, 1, 1, 0</tspan><tspan x="0" dy="5.8">0, 0, 0, 0, 0, 1, 0, 2, 0, 0, 0, 0, 0, 0</tspan><tspan x="0" dy="5.8">0, 1, 0, 0, 0, 1, 1, 0, 0, 2, 0, 0, 0, 0</tspan><tspan x="0" dy="5.8">0, 0, 0, 0, 1, 1, 0, 0, 0, 1, 0, 0, 0, 1</tspan><tspan x="0" dy="5.8">2, 0, 0, 0, 0, 0, 1, 2, 0, 0, 0, 1, 1, 0</tspan><tspan x="0" dy="5.8">0, 0, 0, 0, 1, 0, 1, 0, 0, 0, 0, 4, 1, 0</tspan><tspan x="0" dy="5.8">1, 1, 1, 1, 1, 0, 0, 2, 0, 1, 0, 4, 0, 0</tspan><tspan x="0" dy="5.8">0, 0, 0, 0, 1, 1, 2, 0, 0, 0, 1, 2, 0, 0</tspan><tspan x="0" dy="5.8">0, 0, 2, 0, 0, 1, 0, 0, 0, 1, 0, 1, 1, 2</tspan><tspan x="0" dy="5.8">1, 3, 0, 0, 0, 0, 1, 1, 0, 2, 1, 0, 0, 0</tspan><tspan x="0" dy="5.8">1, 1, 1, 0, 1, 0, 1, 0, 1, 3, 1, 1, 1, 0</tspan><tspan x="0" dy="5.8">1, 3, 1, 1, 0, 1, 0, 1, 0, 1, 1, 1, 0, 2</tspan><tspan x="0" dy="5.8">1, 1, 4, 2, 1, 1, 3, 1, 2, 1, 1, 3, 0, 0</tspan><tspan x="0" dy="5.8">3, 2, 1, 4, 1, 1, 1, 1, 4, 1, 1, 1, 1, 1</tspan><tspan x="0" dy="5.8">5, 5, 1, 2, 1, 1, 1, 1, 1, 2, 1, 3, 1, 1</tspan><tspan x="0" dy="5.8">1, 1, 0, 1, 1, 2, 1, 1, 0, 5, 0, 4, 2, 4</tspan><tspan x="0" dy="5.8">1, 2, 1, 2, 2, 0, 1, 2, 2, 3, 1, 1, 1, 3</tspan><tspan x="0" dy="5.8">0, 1, 2, 2, 1, 1, 1, 1, 3, 1, 1, 1, 1, 1</tspan><tspan x="0" dy="5.8">1, 1, 1, 2, 1, 1, 1, 1, 3, 1, 1, 2, 1, 1</tspan><tspan x="0" dy="5.8">1, 1, 1, 3, 2, 1, 1, 1, 2, 2, 1, 2, 1, 1</tspan><tspan x="0" dy="5.8">4, 1, 1, 2, 1, 1, 1, 4, 1, 1, 1, 1, 5, 1</tspan><tspan x="0" dy="5.8">0, 1, 1, 3, 1, 2, 1, 2, 1, 1, 1, 1, 1, 2</tspan><tspan x="0" dy="5.8">1, 1, 1, 1, 1, 1, 1, 1, 1, 1, 1, 1, 1, 1</tspan><tspan x="0" dy="5.8">2, 1, 1, 1, 1, 1, 1, 2, 1, 1, 1, 1, 2, 1</tspan><tspan x="0" dy="5.8">1, 0, 1, 1, 1, 1, 1, 1, 1, 1, 4, 1, 1, 1</tspan><tspan x="0" dy="5.8">1, 0, 1, 1, 2, 1, 1, 1, 1, 1, 1, 1, 1, 1</tspan><tspan x="0" dy="5.8">1, 1, 1, 1, 1, 0, 1, 1, 1, 1, 1, 2, 0, 4</tspan><tspan x="0" dy="5.8">1, 0, 1, 1, 1, 1, 1, 1, 1, 1, 2, 1, 1, 0</tspan><tspan x="0" dy="5.8">1, 1, 1, 1, 1, 1, 1, 1, 1, 1, 1, 1, 1, 1</tspan><tspan x="0" dy="5.8">1, 1, 1, 0, 1, 1, 1, 1, 1, 1, 1, 1, 1, 1]</tspan></text></g>

<g id="node5" transform="translate(1406,789)"><rect class="b" x="-61" width="122" height="212" fill="#bdf6e0"/><text class="t" y="6.25"><tspan x="0">MSSubClass &lt;= 47.0</tspan><tspan x="0" dy="5.8">gini = 0.625</tspan><tspan x="0" dy="5.8">samples = 4</tspan><tspan x="0" dy="5.8">value = [0, 0, 0, 0, 0, 0, 0, 0, 0, 0, 0, 0, 0, 0</tspan><tspan x="0" dy="5.8">0, 0, 0, 0, 0, 0, 0, 0, 0, 0, 0, 0, 0, 0</tspan><tspan x="0" dy="5.8">0, 0, 0, 0, 0, 0, 0, 0, 0, 0, 0, 0, 0, 0</tspan><tspan x="0" dy="5.8">0, 0, 0, 0, 0, 0, 0, 0, 0, 0, 0, 0, 0, 0</tspan><tspan x="0" dy="5.8">0, 0, 0, 0, 0, 0, 0, 0, 0, 0, 0, 0, 0, 0</tspan><tspan x="0" dy="5.8">0, 0, 0, 0, 0, 0, 0, 0, 0, 0, 0, 0, 0, 0</tspan><tspan x="0" dy="5.8">0, 0, 0, 0, 0, 0, 0, 0, 0, 0, 0, 0, 0, 0</tspan><tspan x="0" dy="5.8">0, 0, 0, 0, 0, 0, 0, 0, 0, 0, 0, 0, 0, 0</tspan><tspan x="0" dy="5.8">0, 0, 0, 0, 0, 0, 0, 0, 0, 0, 0, 0, 0, 0</tspan><tspan x="0" dy="5.8">0, 0, 0, 0, 0, 0, 0, 0, 0, 0, 0, 0, 0, 0</tspan><tspan x="0" dy="5.8">0, 0, 0, 0, 0, 0, 0, 0, 0, 0, 0, 0, 0, 0</tspan><tspan x="0" dy="5.8">0, 0, 0, 0, 0, 0, 0, 0, 0, 0, 0, 0, 0, 0</tspan><tspan x="0" dy="5.8">0, 0, 0, 0, 0, 0, 0, 0, 0, 0, 0, 0, 0, 0</tspan><tspan x="0" dy="5.8">0, 0, 0, 0, 0, 0, 0, 0, 0, 0, 0, 0, 0, 0</tspan><tspan x="0" dy="5.8">0, 0, 0, 0, 0, 0, 0, 0, 0, 0, 0, 0, 0, 0</tspan><tspan x="0" dy="5.8">0, 0, 0, 0, 0, 0, 0, 0, 0, 0, 0, 0, 0, 0</tspan><tspan x="0" dy="5.8">0, 0, 0, 0, 0, 0, 0, 0, 0, 0, 0, 0, 0, 0</tspan><tspan x="0" dy="5.8">0, 0, 0, 0, 0, 0, 0, 0, 0, 0, 0, 0, 0, 0</tspan><tspan x="0" dy="5.8">0, 0, 0, 0, 0, 0, 0, 0, 0, 0, 0, 0, 0, 0</tspan><tspan x="0" dy="5.8">0, 0, 0, 0, 0, 0, 0, 0, 0, 0, 0, 0, 0, 0</tspan><tspan x="0" dy="5.8">0, 0, 0, 0, 0, 0, 0, 0, 0, 0, 0, 0, 0, 0</tspan><tspan x="0" dy="5.8">0, 0, 0, 0, 0, 0, 0, 0, 0, 0, 0, 0, 0, 0</tspan><tspan x="0" dy="5.8">0, 0, 0, 0, 0, 0, 0, 0, 0, 0, 0, 0, 0, 0</tspan><tspan x="0" dy="5.8">0, 0, 0, 0, 0, 0, 0, 0, 0, 0, 0, 0, 0, 0</tspan><tspan x="0" dy="5.8">0, 0, 0, 0, 0, 0, 0, 0, 0, 0, 0, 0, 0, 0</tspan><tspan x="0" dy="5.8">0, 0, 0, 0, 0, 0, 0, 0, 0, 0, 0, 0, 0, 0</tspan><tspan x="0" dy="5.8">0, 0, 0, 0, 0, 0, 0, 0, 0, 0, 0, 0, 0, 0</tspan><tspan x="0" dy="5.8">0, 0, 0, 0, 0, 0, 0, 0, 0, 0, 0, 0, 0, 0</tspan><tspan x="0" dy="5.8">0, 0, 0, 0, 0, 0, 0, 0, 0, 0, 0, 0, 0, 0</tspan><tspan x="0" dy="5.8">0, 0, 0, 0, 0, 0, 1, 0, 0, 0, 0, 0, 0, 0</tspan><tspan x="0" dy="5.8">0, 0, 0, 0, 0, 0, 0, 0, 0, 0, 0, 0, 0, 0</tspan><tspan x="0" dy="5.8">0, 0, 0, 0, 0, 0, 0, 0, 0, 0, 0, 0, 0, 0</tspan><tspan x="0" dy="5.8">0, 0, 0, 0, 0, 0, 0, 0, 0, 0, 0, 0, 0, 0]</tspan></text></g>

<g id="node11" transform="translate(1346,1061)"><rect class="b" x="-61" width="122" height="212" fill="#9cf2d0"/><text class="t" y="6.25"><tspan x="0">BsmtFinSF1 &lt;= 5.0</tspan><tspan x="0" dy="5.8">gini = 0.444</tspan><tspan x="0" dy="5.8">samples = 3</tspan><tspan x="0" dy="5.8">value = [0, 0, 0, 0, 0, 0, 0, 0, 0, 0, 0, 0, 0, 0</tspan><tspan x="0" dy="5.8">0, 0, 0, 0, 0, 0, 0, 0, 0, 0, 0, 0, 0, 0</tspan><tspan x="0" dy="5.8">0, 0, 0, 0, 0, 0, 0, 0, 0, 0, 0, 0, 0, 0</tspan><tspan x="0" dy="5.8">0, 0, 0, 0, 0, 0, 0, 0, 0, 0, 0, 0, 0, 0</tspan><tspan x="0" dy="5.8">0, 0, 0, 0, 0, 0, 0, 0, 0, 0, 0, 0, 0, 0</tspan><tspan x="0" dy="5.8">0, 0, 0, 0, 0, 0, 0, 0, 0, 0, 0, 0, 0, 0</tspan><tspan x="0" dy="5.8">0, 0, 0, 0, 0, 0, 0, 0, 0, 0, 0, 0, 0, 0</tspan><tspan x="0" dy="5.8">0, 0, 0, 0, 0, 0, 0, 0, 0, 0, 0, 0, 0, 0</tspan><tspan x="0" dy="5.8">0, 0, 0, 0, 0, 0, 0, 0, 0, 0, 0, 0, 0, 0</tspan><tspan x="0" dy="5.8">0, 0, 0, 0, 0, 0, 0, 0, 0, 0, 0, 0, 0, 0</tspan><tspan x="0" dy="5.8">0, 0, 0, 0, 0, 0, 0, 0, 0, 0, 0, 0, 0, 0</tspan><tspan x="0" dy="5.8">0, 0, 0, 0, 0, 0, 0, 0, 0, 0, 0, 0, 0, 0</tspan><tspan x="0" dy="5.8">0, 0, 0, 0, 0, 0, 0, 0, 0, 0, 0, 0, 0, 0</tspan><tspan x="0" dy="5.8">0, 0, 0, 0, 0, 0, 0, 0, 0, 0, 0, 0, 0, 0</tspan><tspan x="0" dy="5.8">0, 0, 0, 0, 0, 0, 0, 0, 0, 0, 0, 0, 0, 0</tspan><tspan x="0" dy="5.8">0, 0, 0, 0, 0, 0, 0, 0, 0, 0, 0, 0, 0, 0</tspan><tspan x="0" dy="5.8">0, 0, 0, 0, 0, 0, 0, 0, 0, 0, 0, 0, 0, 0</tspan><tspan x="0" dy="5.8">0, 0, 0, 0, 0, 0, 0, 0, 0, 0, 0, 0, 0, 0</tspan><tspan x="0" dy="5.8">0, 0, 0, 0, 0, 0, 0, 0, 0, 0, 0, 0, 0, 0</tspan><tspan x="0" dy="5.8">0, 0, 0, 0, 0, 0, 0, 0, 0, 0, 0, 0, 0, 0</tspan><tspan x="0" dy="5.8">0, 0, 0, 0, 0, 0, 0, 0, 0, 0, 0, 0, 0, 0</tspan><tspan x="0" dy="5.8">0, 0, 0, 0, 0, 0, 0, 0, 0, 0, 0, 0, 0, 0</tspan><tspan x="0" dy="5.8">0, 0, 0, 0, 0, 0, 0, 0, 0, 0, 0, 0, 0, 0</tspan><tspan x="0" dy="5.8">0, 0, 0, 0, 0, 0, 0, 0, 0, 0, 0, 0, 0, 0</tspan><tspan x="0" dy="5.8">0, 0, 0, 0, 0, 0, 0, 0, 0, 0, 0, 0, 0, 0</tspan><tspan x="0" dy="5.8">0, 0, 0, 0, 0, 0, 0, 0, 0, 0, 0, 0, 0, 0</tspan><tspan x="0" dy="5.8">0, 0, 0, 0, 0, 0, 0, 0, 0, 0, 0, 0, 0, 0</tspan><tspan x="0" dy="5.8">0, 0, 0, 0, 0, 0, 0, 0, 0, 0, 0, 0, 0, 0</tspan><tspan x="0" dy="5.8">0, 0, 0, 0, 0, 0, 0, 0, 0, 0, 0, 0, 0, 0</tspan><tspan x="0" dy="5.8">0, 0, 0, 0, 0, 0, 1, 0, 0, 0, 0, 0, 0, 0</tspan><tspan x="0" dy="5.8">0, 0, 0, 0, 0, 0, 0, 0, 0, 0, 0, 0, 0, 0</tspan><tspan x="0" dy="5.8">0, 0, 0, 0, 0, 0, 0, 0, 0, 0, 0, 0, 0, 0</tspan><tspan x="0" dy="5.8">0, 0, 0, 0, 0, 0, 0, 0, 0, 0, 0, 0, 0, 0]</tspan></text></g>

<g id="leaf9" transform="translate(1285,1336)"><rect class="b" x="-59.75" width="119.5" height="207" fill="#39e56f"/><text class="t" y="6.65"><tspan x="0">gini = 0.0</tspan><tspan x="0" dy="5.8">samples = 1</tspan><tspan x="0" dy="5.8">value = [0, 0, 0, 0, 0, 0, 0, 0, 0, 0, 0, 0, 0, 0</tspan><tspan x="0" dy="5.8">0, 0, 0, 0, 0, 0, 0, 0, 0, 0, 0, 0, 0, 0</tspan><tspan x="0" dy="5.8">0, 0, 0, 0, 0, 0, 0, 0, 0, 0, 0, 0, 0, 0</tspan><tspan x="0" dy="5.8">0, 0, 0, 0, 0, 0, 0, 0, 0, 0, 0, 0, 0, 0</tspan><tspan x="0" dy="5.8">0, 0, 0, 0, 0, 0, 0, 0, 0, 0, 0, 0, 0, 0</tspan><tspan x="0" dy="5.8">0, 0, 0, 0, 0, 0, 0, 0, 0, 0, 0, 0, 0, 0</tspan><tspan x="0" dy="5.8">0, 0, 0, 0, 0, 0, 0, 0, 0, 0, 0, 0, 0, 0</tspan><tspan x="0" dy="5.8">0, 0, 0, 0, 0, 0, 0, 0, 0, 0, 0, 0, 0, 0</tspan><tspan x="0" dy="5.8">0, 0, 0, 0, 0, 0, 0, 0, 0, 0, 0, 0, 0, 0</tspan><tspan x="0" dy="5.8">0, 0, 0, 0, 0, 0, 0, 0, 0, 0, 0, 0, 0, 0</tspan><tspan x="0" dy="5.8">0, 0, 0, 0, 0, 0, 0, 0, 0, 0, 0, 0, 0, 0</tspan><tspan x="0" dy="5.8">0, 0, 0, 0, 0, 0, 0, 0, 0, 0, 0, 0, 0, 0</tspan><tspan x="0" dy="5.8">0, 0, 0, 0, 0, 0, 0, 0, 0, 0, 0, 0, 0, 0</tspan><tspan x="0" dy="5.8">0, 0, 0, 0, 0, 0, 0, 0, 0, 0, 0, 0, 0, 0</tspan><tspan x="0" dy="5.8">0, 0, 0, 0, 0, 0, 0, 0, 0, 0, 0, 0, 0, 0</tspan><tspan x="0" dy="5.8">0, 0, 0, 0, 0, 0, 0, 0, 0, 0, 0, 0, 0, 0</tspan><tspan x="0" dy="5.8">0, 0, 0, 0, 0, 0, 0, 0, 0, 0, 0, 0, 0, 0</tspan><tspan x="0" dy="5.8">0, 0, 0, 0, 0, 0, 0, 0, 0, 0, 0, 0, 0, 0</tspan><tspan x="0" dy="5.8">0, 0, 0, 0, 0, 0, 0, 0, 0, 0, 0, 0, 0, 0</tspan><tspan x="0" dy="5.8">0, 0, 0, 0, 0, 0, 0, 0, 0, 0, 0, 0, 0, 0</tspan><tspan x="0" dy="5.8">0, 0, 0, 0, 0, 0, 0, 0, 0, 0, 0, 0, 0, 0</tspan><tspan x="0" dy="5.8">0, 0, 0, 0, 0, 0, 0, 0, 0, 0, 0, 0, 0, 0</tspan><tspan x="0" dy="5.8">0, 0, 0, 0, 0, 0, 0, 0, 0, 0, 0, 0, 0, 0</tspan><tspan x="0" dy="5.8">0, 0, 0, 0, 0, 0, 0, 0, 0, 0, 0, 0, 0, 0</tspan><tspan x="0" dy="5.8">0, 0, 0, 0, 0, 0, 0, 0, 0, 0, 0, 0, 0, 0</tspan><tspan x="0" dy="5.8">0, 0, 0, 0, 0, 0, 0, 0, 0, 0, 0, 0, 0, 0</tspan><tspan x="0" dy="5.8">0, 0, 0, 0, 0, 0, 0, 0, 0, 0, 0, 0, 0, 0</tspan><tspan x="0" dy="5.8">0, 0, 0, 0, 0, 0, 0, 0, 0, 0, 0, 0, 0, 0</tspan><tspan x="0" dy="5.8">0, 0, 0, 0, 0, 0, 0, 0, 0, 0, 0, 0, 0, 0</tspan><tspan x="0" dy="5.8">0, 0, 0, 0, 0, 0, 1, 0, 0, 0, 0, 0, 0, 0</tspan><tspan x="0" dy="5.8">0, 0, 0, 0, 0, 0, 0, 0, 0, 0, 0, 0, 0, 0</tspan><tspan x="0" dy="5.8">0, 0, 0, 0, 0, 0, 0, 0, 0, 0, 0, 0, 0, 0</tspan><tspan x="0" dy="5.8">0, 0, 0, 0, 0, 0, 0, 0, 0, 0, 0, 0, 0, 0]</tspan></text></g>

<g id="leaf10" transform="translate(1404.5,1336)"><rect class="b" x="-59.75" width="119.5" height="207" fill="#39e5a1"/><text class="t" y="6.65"><tspan x="0">gini = 0.0</tspan><tspan x="0" dy="5.8">samples = 2</tspan><tspan x="0" dy="5.8">value = [0, 0, 0, 0, 0, 0, 0, 0, 0, 0, 0, 0, 0, 0</tspan><tspan x="0" dy="5.8">0, 0, 0, 0, 0, 0, 0, 0, 0, 0, 0, 0, 0, 0</tspan><tspan x="0" dy="5.8">0, 0, 0, 0, 0, 0, 0, 0, 0, 0, 0, 0, 0, 0</tspan><tspan x="0" dy="5.8">0, 0, 0, 0, 0, 0, 0, 0, 0, 0, 0, 0, 0, 0</tspan><tspan x="0" dy="5.8">0, 0, 0, 0, 0, 0, 0, 0, 0, 0, 0, 0, 0, 0</tspan><tspan x="0" dy="5.8">0, 0, 0, 0, 0, 0, 0, 0, 0, 0, 0, 0, 0, 0</tspan><tspan x="0" dy="5.8">0, 0, 0, 0, 0, 0, 0, 0, 0, 0, 0, 0, 0, 0</tspan><tspan x="0" dy="5.8">0, 0, 0, 0, 0, 0, 0, 0, 0, 0, 0, 0, 0, 0</tspan><tspan x="0" dy="5.8">0, 0, 0, 0, 0, 0, 0, 0, 0, 0, 0, 0, 0, 0</tspan><tspan x="0" dy="5.8">0, 0, 0, 0, 0, 0, 0, 0, 0, 0, 0, 0, 0, 0</tspan><tspan x="0" dy="5.8">0, 0, 0, 0, 0, 0, 0, 0, 0, 0, 0, 0, 0, 0</tspan><tspan x="0" dy="5.8">0, 0, 0, 0, 0, 0, 0, 0, 0, 0, 0, 0, 0, 0</tspan><tspan x="0" dy="5.8">0, 0, 0, 0, 0, 0, 0, 0, 0, 0, 0, 0, 0, 0</tspan><tspan x="0" dy="5.8">0, 0, 0, 0, 0, 0, 0, 0, 0, 0, 0, 0, 0, 0</tspan><tspan x="0" dy="5.8">0, 0, 0, 0, 0, 0, 0, 0, 0, 0, 0, 0, 0, 0</tspan><tspan x="0" dy="5.8">0, 0, 0, 0, 0, 0, 0, 0, 0, 0, 0, 0, 0, 0</tspan><tspan x="0" dy="5.8">0, 0, 0, 0, 0, 0, 0, 0, 0, 0, 0, 0, 0, 0</tspan><tspan x="0" dy="5.8">0, 0, 0, 0, 0, 0, 0, 0, 0, 0, 0, 0, 0, 0</tspan><tspan x="0" dy="5.8">0, 0, 0, 0, 0, 0, 0, 0, 0, 0, 0, 0, 0, 0</tspan><tspan x="0" dy="5.8">0, 0, 0, 0, 0, 0, 0, 0, 0, 0, 0, 0, 0, 0</tspan><tspan x="0" dy="5.8">0, 0, 0, 0, 0, 0, 0, 0, 0, 0, 0, 0, 0, 0</tspan><tspan x="0" dy="5.8">0, 0, 0, 0, 0, 0, 0, 0, 0, 0, 0, 0, 0, 0</tspan><tspan x="0" dy="5.8">0, 0, 0, 0, 0, 0, 0, 0, 0, 0, 0, 0, 0, 0</tspan><tspan x="0" dy="5.8">0, 0, 0, 0, 0, 0, 0, 0, 0, 0, 0, 0, 0, 0</tspan><tspan x="0" dy="5.8">0, 0, 0, 0, 0, 0, 0, 0, 0, 0, 0, 0, 0, 0</tspan><tspan x="0" dy="5.8">0, 0, 0, 0, 0, 0, 0, 0, 0, 0, 0, 0, 0, 0</tspan><tspan x="0" dy="5.8">0, 0, 0, 0, 0, 0, 0, 0, 0, 0, 0, 0, 0, 0</tspan><tspan x="0" dy="5.8">0, 0, 0, 0, 0, 0, 0, 0, 0, 0, 0, 0, 0, 0</tspan><tspan x="0" dy="5.8">0, 0, 0, 0, 0, 0, 0, 0, 0, 0, 0, 0, 0, 0</tspan><tspan x="0" dy="5.8">0, 0, 0, 0, 0, 0, 0, 0, 0, 0, 0, 0, 0, 0</tspan><tspan x="0" dy="5.8">0, 0, 0, 0, 0, 0, 0, 0, 0, 0, 0, 0, 0, 0</tspan><tspan x="0" dy="5.8">0, 0, 0, 0, 0, 0, 0, 0, 0, 0, 0, 0, 0, 0</tspan><tspan x="0" dy="5.8">0, 0, 0, 0, 0, 0, 0, 0, 0, 0, 0, 0, 0, 0]</tspan></text></g>

<g id="node12" transform="translate(1464.5,1065)"><rect class="b" x="-59.5" width="119" height="204" fill="#3939e5"/><text class="t" y="5.15"><tspan x="0">gini = 0.0</tspan><tspan x="0" dy="5.8">samples = 1</tspan><tspan x="0" dy="5.8">value = [0, 0, 0, 0, 0, 0, 0, 0, 0, 0, 0, 0, 0, 0</tspan><tspan x="0" dy="5.8">0, 0, 0, 0, 0, 0, 0, 0, 0, 0, 0, 0, 0, 0</tspan><tspan x="0" dy="5.8">0, 0, 0, 0, 0, 0, 0, 0, 0, 0, 0, 0, 0, 0</tspan><tspan x="0" dy="5.8">0, 0, 0, 0, 0, 0, 0, 0, 0, 0, 0, 0, 0, 0</tspan><tspan x="0" dy="5.8">0, 0, 0, 0, 0, 0, 0, 0, 0, 0, 0, 0, 0, 0</tspan><tspan x="0" dy="5.8">0, 0, 0, 0, 0, 0, 0, 0, 0, 0, 0, 0, 0, 0</tspan><tspan x="0" dy="5.8">0, 0, 0, 0, 0, 0, 0, 0, 0, 0, 0, 0, 0, 0</tspan><tspan x="0" dy="5.8">0, 0, 0, 0, 0, 0, 0, 0, 0, 0, 0, 0, 0, 0</tspan><tspan x="0" dy="5.8">0, 0, 0, 0, 0, 0, 0, 0, 0, 0, 0, 0, 0, 0</tspan><tspan x="0" dy="5.8">0, 0, 0, 0, 0, 0, 0, 0, 0, 0, 0, 0, 0, 0</tspan><tspan x="0" dy="5.8">0, 0, 0, 0, 0, 0, 0, 0, 0, 0, 0, 0, 0, 0</tspan><tspan x="0" dy="5.8">0, 0, 0, 0, 0, 0, 0, 0, 0, 0, 0, 0, 0, 0</tspan><tspan x="0" dy="5.8">0, 0, 0, 0, 0, 0, 0, 0, 0, 0, 0, 0, 0, 0</tspan><tspan x="0" dy="5.8">0, 0, 0, 0, 0, 0, 0, 0, 0, 0, 0, 0, 0, 0</tspan><tspan x="0" dy="5.8">0, 0, 0, 0, 0, 0, 0, 0, 0, 0, 0, 0, 0, 0</tspan><tspan x="0" dy="5.8">0, 0, 0, 0, 0, 0, 0, 0, 0, 0, 0, 0, 0, 0</tspan><tspan x="0" dy="5.8">0, 0, 0, 0, 0, 0, 0, 0, 0, 0, 0, 0, 0, 0</tspan><tspan x="0" dy="5.8">0, 0, 0, 0, 0, 0, 0, 0, 0, 0, 0, 0, 0, 0</tspan><tspan x="0" dy="5.8">0, 0, 0, 0, 0, 0, 0, 0, 0, 0, 0, 0, 0, 0</tspan><tspan x="0" dy="5.8">0, 0, 0, 0, 0, 0, 0, 0, 0, 0, 0, 0, 0, 0</tspan><tspan x="0" dy="5.8">0, 0, 0, 0, 0, 0, 0, 0, 0, 0, 0, 0, 0, 0</tspan><tspan x="0" dy="5.8">0, 0, 0, 0, 0, 0, 0, 0, 0, 0, 0, 0, 0, 0</tspan><tspan x="0" dy="5.8">0, 0, 0, 0, 0, 0, 0, 0, 0, 0, 0, 0, 0, 0</tspan><tspan x="0" dy="5.8">0, 0, 0, 0, 0, 0, 0, 0, 0, 0, 0, 0, 0, 0</tspan><tspan x="0" dy="5.8">0, 0, 0, 0, 0, 0, 0, 0, 0, 0, 0, 0, 0, 0</tspan><tspan x="0" dy="5.8">0, 0, 0, 0, 0, 0, 0, 0, 0, 0, 0, 0, 0, 0</tspan><tspan x="0" dy="5.8">0, 0, 0, 0, 0, 0, 0, 0, 0, 0, 0, 0, 0, 0</tspan><tspan x="0" dy="5.8">0, 0, 0, 0, 0, 0, 0, 0, 0, 0, 0, 0, 0, 0</tspan><tspan x="0" dy="5.8">0, 0, 0, 0, 0, 0, 0, 0, 0, 0, 0, 0, 0, 0</tspan><tspan x="0" dy="5.8">0, 0, 0, 0, 0, 0, 0, 0, 0, 0, 0, 0, 0, 0</tspan><tspan x="0" dy="5.8">0, 0, 0, 0, 0, 0, 0, 0, 0, 0, 0, 0, 0, 0</tspan><tspan x="0" dy="5.8">0, 0, 0, 0, 0, 0, 0, 0, 0, 0, 0, 0, 0, 0</tspan><tspan x="0" dy="5.8">0, 0, 0, 0, 0, 0, 0, 0, 0, 0, 0, 0, 0, 0]</tspan></text></g>

<g id="node6" transform="translate(1704.5,789)"><rect class="b" x="-61.5" width="123" height="212" fill="#ffffff"/><text class="t" y="6.25"><tspan x="0">MasVnrArea &lt;= 503.0</tspan><tspan x="0" dy="5.8">gini = 0.996</tspan><tspan x="0" dy="5.8">samples = 429</tspan><tspan x="0" dy="5.8">value = [0, 0, 0, 0, 0, 1, 0, 0, 0, 0, 0, 0, 0, 0</tspan><tspan x="0" dy="5.8">0, 0, 0, 1, 0, 0, 0, 1, 0, 0, 0, 1, 0, 0</tspan><tspan x="0" dy="5.8">0, 0, 1, 0, 0, 0, 0, 0, 1, 0, 0, 1, 0, 0</tspan><tspan x="0" dy="5.8">1, 0, 0, 0, 1, 0, 0, 0, 1, 0, 0, 1, 1, 0</tspan><tspan x="0" dy="5.8">0, 0, 0, 0, 0, 1, 0, 2, 0, 0, 0, 0, 0, 0</tspan><tspan x="0" dy="5.8">0, 1, 0, 0, 0, 1, 1, 0, 0, 2, 0, 0, 0, 0</tspan><tspan x="0" dy="5.8">0, 0, 0, 0, 1, 1, 0, 0, 0, 1, 0, 0, 0, 1</tspan><tspan x="0" dy="5.8">2, 0, 0, 0, 0, 0, 1, 2, 0, 0, 0, 1, 1, 0</tspan><tspan x="0" dy="5.8">0, 0, 0, 0, 1, 0, 1, 0, 0, 0, 0, 4, 1, 0</tspan><tspan x="0" dy="5.8">1, 1, 1, 1, 1, 0, 0, 2, 0, 1, 0, 4, 0, 0</tspan><tspan x="0" dy="5.8">0, 0, 0, 0, 1, 1, 2, 0, 0, 0, 1, 2, 0, 0</tspan><tspan x="0" dy="5.8">0, 0, 2, 0, 0, 1, 0, 0, 0, 1, 0, 1, 1, 2</tspan><tspan x="0" dy="5.8">1, 3, 0, 0, 0, 0, 1, 1, 0, 2, 1, 0, 0, 0</tspan><tspan x="0" dy="5.8">1, 1, 1, 0, 1, 0, 1, 0, 1, 3, 1, 1, 1, 0</tspan><tspan x="0" dy="5.8">1, 3, 1, 1, 0, 1, 0, 1, 0, 1, 1, 1, 0, 2</tspan><tspan x="0" dy="5.8">1, 1, 4, 2, 1, 1, 3, 1, 2, 1, 1, 3, 0, 0</tspan><tspan x="0" dy="5.8">3, 2, 1, 4, 1, 1, 1, 1, 4, 1, 1, 1, 1, 1</tspan><tspan x="0" dy="5.8">5, 5, 1, 2, 1, 1, 1, 1, 1, 2, 1, 3, 1, 1</tspan><tspan x="0" dy="5.8">1, 1, 0, 1, 1, 2, 1, 1, 0, 5, 0, 4, 2, 4</tspan><tspan x="0" dy="5.8">1, 2, 1, 2, 2, 0, 1, 2, 2, 3, 1, 1, 1, 3</tspan><tspan x="0" dy="5.8">0, 1, 2, 2, 1, 1, 1, 1, 3, 1, 1, 1, 1, 1</tspan><tspan x="0" dy="5.8">1, 1, 1, 2, 1, 1, 1, 1, 3, 1, 1, 2, 1, 1</tspan><tspan x="0" dy="5.8">1, 1, 1, 3, 2, 1, 1, 1, 2, 2, 1, 2, 1, 1</tspan><tspan x="0" dy="5.8">4, 1, 1, 2, 1, 1, 1, 4, 1, 1, 1, 1, 5, 1</tspan><tspan x="0" dy="5.8">0, 1, 1, 3, 1, 2, 1, 2, 1, 1, 1, 1, 1, 2</tspan><tspan x="0" dy="5.8">1, 1, 1, 1, 1, 1, 1, 1, 1, 1, 1, 1, 1, 1</tspan><tspan x="0" dy="5.8">2, 1, 1, 1, 1, 1, 1, 2, 1, 1, 1, 1, 2, 1</tspan><tspan x="0" dy="5.8">1, 0, 1, 1, 1, 1, 1, 1, 1, 1, 4, 1, 1, 1</tspan><tspan x="0" dy="5.8">1, 0, 1, 1, 2, 1, 1, 1, 1, 1, 1, 1, 1, 1</tspan><tspan x="0" dy="5.8">1, 1, 1, 1, 1, 0, 1, 1, 1, 1, 1, 2, 0, 4</tspan><tspan x="0" dy="5.8">1, 0, 1, 1, 1, 1, 1, 1, 1, 1, 2, 1, 1, 0</tspan><tspan x="0" dy="5.8">1, 1, 1, 1, 1, 1, 1, 1, 1, 1, 1, 1, 1, 1</tspan><tspan x="0" dy="5.8">1, 1, 1, 0, 1, 1, 1, 1, 1, 1, 1, 1, 1, 1]</tspan></text></g>

<g id="node13" transform="translate(1585.5,1061)"><rect class="b" x="-60.5" width="121" height="212" fill="#ffffff"/><text class="t" y="6.25"><tspan x="0">Neighborhood &lt;= 1330.5</tspan><tspan x="0" dy="5.8">gini = 0.99</tspan><tspan x="0" dy="5.8">samples = 174</tspan><tspan x="0" dy="5.8">value = [0, 0, 0, 0, 0, 1, 0, 0, 0, 0, 0, 0, 0, 0</tspan><tspan x="0" dy="5.8">0, 0, 0, 0, 0, 0, 0, 0, 0, 0, 0, 0, 0, 0</tspan><tspan x="0" dy="5.8">0, 0, 1, 0, 0, 0, 0, 0, 1, 0, 0, 1, 0, 0</tspan><tspan x="0" dy="5.8">1, 0, 0, 0, 1, 0, 0, 0, 1, 0, 0, 1, 1, 0</tspan><tspan x="0" dy="5.8">0, 0, 0, 0, 0, 1, 0, 2, 0, 0, 0, 0, 0, 0</tspan><tspan x="0" dy="5.8">0, 1, 0, 0, 0, 1, 1, 0, 0, 2, 0, 0, 0, 0</tspan><tspan x="0" dy="5.8">0, 0, 0, 0, 1, 1, 0, 0, 0, 1, 0, 0, 0, 1</tspan><tspan x="0" dy="5.8">2, 0, 0, 0, 0, 0, 1, 2, 0, 0, 0, 1, 1, 0</tspan><tspan x="0" dy="5.8">0, 0, 0, 0, 1, 0, 1, 0, 0, 0, 0, 3, 1, 0</tspan><tspan x="0" dy="5.8">1, 1, 1, 1, 1, 0, 0, 2, 0, 1, 0, 4, 0, 0</tspan><tspan x="0" dy="5.8">0, 0, 0, 0, 1, 1, 2, 0, 0, 0, 1, 2, 0, 0</tspan><tspan x="0" dy="5.8">0, 0, 2, 0, 0, 1, 0, 0, 0, 1, 0, 1, 1, 2</tspan><tspan x="0" dy="5.8">1, 3, 0, 0, 0, 0, 1, 1, 0, 2, 1, 0, 0, 0</tspan><tspan x="0" dy="5.8">1, 1, 1, 0, 1, 0, 1, 0, 1, 2, 1, 1, 1, 0</tspan><tspan x="0" dy="5.8">1, 2, 1, 1, 0, 1, 0, 1, 0, 1, 1, 0, 0, 2</tspan><tspan x="0" dy="5.8">0, 1, 3, 1, 1, 0, 2, 1, 1, 0, 1, 2, 0, 0</tspan><tspan x="0" dy="5.8">2, 1, 1, 2, 0, 1, 0, 1, 3, 0, 1, 0, 1, 0</tspan><tspan x="0" dy="5.8">3, 2, 0, 1, 1, 0, 1, 0, 1, 1, 0, 1, 0, 1</tspan><tspan x="0" dy="5.8">0, 1, 0, 0, 1, 1, 0, 1, 0, 2, 0, 2, 1, 1</tspan><tspan x="0" dy="5.8">1, 0, 0, 1, 1, 0, 0, 1, 0, 1, 1, 0, 0, 1</tspan><tspan x="0" dy="5.8">0, 0, 1, 0, 0, 0, 1, 0, 1, 0, 0, 1, 0, 0</tspan><tspan x="0" dy="5.8">0, 1, 0, 1, 0, 0, 0, 0, 1, 0, 0, 0, 0, 0</tspan><tspan x="0" dy="5.8">0, 0, 0, 1, 0, 0, 1, 0, 0, 0, 0, 0, 0, 0</tspan><tspan x="0" dy="5.8">1, 0, 0, 0, 0, 0, 0, 1, 0, 0, 0, 0, 1, 0</tspan><tspan x="0" dy="5.8">0, 0, 0, 1, 0, 0, 0, 0, 0, 0, 0, 0, 0, 0</tspan><tspan x="0" dy="5.8">0, 0, 0, 0, 0, 0, 0, 0, 0, 0, 0, 0, 0, 0</tspan><tspan x="0" dy="5.8">0, 0, 0, 0, 0, 0, 0, 1, 0, 0, 0, 0, 0, 0</tspan><tspan x="0" dy="5.8">0, 0, 0, 0, 0, 0, 0, 0, 0, 0, 1, 0, 0, 0</tspan><tspan x="0" dy="5.8">0, 0, 0, 0, 0, 0, 0, 0, 0, 0, 0, 0, 0, 0</tspan><tspan x="0" dy="5.8">0, 0, 0, 0, 0, 0, 0, 0, 0, 0, 0, 0, 0, 1</tspan><tspan x="0" dy="5.8">0, 0, 0, 0, 0, 0, 0, 0, 0, 0, 0, 0, 0, 0</tspan><tspan x="0" dy="5.8">0, 0, 0, 0, 0, 0, 0, 0, 0, 0, 0, 0, 0, 0</tspan><tspan x="0" dy="5.8">0, 0, 0, 0, 0, 0, 0, 0, 0, 0, 0, 0, 0, 0]</tspan></text></g>

<g id="leaf11" transform="translate(1524,1336)"><rect class="b" x="-59.75" width="119.5" height="207" fill="#ffffff"/><text class="t" y="6.65"><tspan x="0">gini = 0.988</tspan><tspan x="0" dy="5.8">samples = 135</tspan><tspan x="0" dy="5.8">value = [0, 0, 0, 0, 0, 1, 0, 0, 0, 0, 0, 0, 0, 0</tspan><tspan x="0" dy="5.8">0, 0, 0, 0, 0, 0, 0, 0, 0, 0, 0, 0, 0, 0</tspan><tspan x="0" dy="5.8">0, 0, 1, 0, 0, 0, 0, 0, 1, 0, 0, 1, 0, 0</tspan><tspan x="0" dy="5.8">1, 0, 0, 0, 1, 0, 0, 0, 1, 0, 0, 1, 1, 0</tspan><tspan x="0" dy="5.8">0, 0, 0, 0, 0, 0, 0, 2, 0, 0, 0, 0, 0, 0</tspan><tspan x="0" dy="5.8">0, 1, 0, 0, 0, 1, 1, 0, 0, 2, 0, 0, 0, 0</tspan><tspan x="0" dy="5.8">0, 0, 0, 0, 1, 1, 0, 0, 0, 1, 0, 0, 0, 1</tspan><tspan x="0" dy="5.8">2, 0, 0, 0, 0, 0, 1, 2, 0, 0, 0, 1, 1, 0</tspan><tspan x="0" dy="5.8">0, 0, 0, 0, 1, 0, 1, 0, 0, 0, 0, 3, 1, 0</tspan><tspan x="0" dy="5.8">1, 1, 1, 1, 1, 0, 0, 2, 0, 1, 0, 3, 0, 0</tspan><tspan x="0" dy="5.8">0, 0, 0, 0, 1, 1, 2, 0, 0, 0, 1, 2, 0, 0</tspan><tspan x="0" dy="5.8">0, 0, 2, 0, 0, 1, 0, 0, 0, 1, 0, 1, 1, 2</tspan><tspan x="0" dy="5.8">1, 3, 0, 0, 0, 0, 1, 1, 0, 2, 1, 0, 0, 0</tspan><tspan x="0" dy="5.8">1, 1, 1, 0, 1, 0, 1, 0, 1, 2, 1, 1, 1, 0</tspan><tspan x="0" dy="5.8">1, 2, 1, 1, 0, 1, 0, 1, 0, 1, 1, 0, 0, 2</tspan><tspan x="0" dy="5.8">0, 1, 3, 1, 1, 0, 2, 1, 1, 0, 1, 2, 0, 0</tspan><tspan x="0" dy="5.8">2, 1, 1, 2, 0, 1, 0, 1, 2, 0, 1, 0, 1, 0</tspan><tspan x="0" dy="5.8">2, 2, 0, 1, 1, 0, 1, 0, 1, 1, 0, 1, 0, 1</tspan><tspan x="0" dy="5.8">0, 1, 0, 0, 1, 1, 0, 1, 0, 1, 0, 2, 1, 1</tspan><tspan x="0" dy="5.8">1, 0, 0, 1, 0, 0, 0, 1, 0, 1, 1, 0, 0, 0</tspan><tspan x="0" dy="5.8">0, 0, 1, 0, 0, 0, 1, 0, 0, 0, 0, 1, 0, 0</tspan><tspan x="0" dy="5.8">0, 1, 0, 0, 0, 0, 0, 0, 1, 0, 0, 0, 0, 0</tspan><tspan x="0" dy="5.8">0, 0, 0, 1, 0, 0, 0, 0, 0, 0, 0, 0, 0, 0</tspan><tspan x="0" dy="5.8">1, 0, 0, 0, 0, 0, 0, 0, 0, 0, 0, 0, 0, 0</tspan><tspan x="0" dy="5.8">0, 0, 0, 0, 0, 0, 0, 0, 0, 0, 0, 0, 0, 0</tspan><tspan x="0" dy="5.8">0, 0, 0, 0, 0, 0, 0, 0, 0, 0, 0, 0, 0, 0</tspan><tspan x="0" dy="5.8">0, 0, 0, 0, 0, 0, 0, 1, 0, 0, 0, 0, 0, 0</tspan><tspan x="0" dy="5.8">0, 0, 0, 0, 0, 0, 0, 0, 0, 0, 0, 0, 0, 0</tspan><tspan x="0" dy="5.8">0, 0, 0, 0, 0, 0, 0, 0, 0, 0, 0, 0, 0, 0</tspan><tspan x="0" dy="5.8">0, 0, 0, 0, 0, 0, 0, 0, 0, 0, 0, 0, 0, 0</tspan><tspan x="0" dy="5.8">0, 0, 0, 0, 0, 0, 0, 0, 0, 0, 0, 0, 0, 0</tspan><tspan x="0" dy="5.8">0, 0, 0, 0, 0, 0, 0, 0, 0, 0, 0, 0, 0, 0</tspan><tspan x="0" dy="5.8">0, 0, 0, 0, 0, 0, 0, 0, 0, 0, 0, 0, 0, 0]</tspan></text></g>

<g id="leaf12" transform="translate(1644,1336)"><rect class="b" x="-59.75" width="119.5" height="207" fill="#f4f8fe"/><text class="t" y="6.65"><tspan x="0">gini = 0.963</tspan><tspan x="0" dy="5.8">samples = 39</tspan><tspan x="0" dy="5.8">value = [0, 0, 0, 0, 0, 0, 0, 0, 0, 0, 0, 0, 0, 0</tspan><tspan x="0" dy="5.8">0, 0, 0, 0, 0, 0, 0, 0, 0, 0, 0, 0, 0, 0</tspan><tspan x="0" dy="5.8">0, 0, 0, 0, 0, 0, 0, 0, 0, 0, 0, 0, 0, 0</tspan><tspan x="0" dy="5.8">0, 0, 0, 0, 0, 0, 0, 0, 0, 0, 0, 0, 1, 0</tspan><tspan x="0" dy="5.8">0, 0, 0, 0, 0, 1, 0, 0, 0, 0, 0, 0, 0, 0</tspan><tspan x="0" dy="5.8">0, 0, 0, 0, 0, 0, 0, 0, 0, 0, 0, 0, 0, 0</tspan><tspan x="0" dy="5.8">0, 0, 0, 0, 0, 0, 0, 0, 0, 0, 0, 0, 0, 0</tspan><tspan x="0" dy="5.8">0, 0, 0, 0, 0, 0, 0, 0, 0, 0, 0, 0, 0, 0</tspan><tspan x="0" dy="5.8">0, 0, 0, 0, 0, 0, 0, 0, 0, 0, 0, 0, 0, 0</tspan><tspan x="0" dy="5.8">0, 0, 0, 0, 0, 0, 0, 0, 0, 0, 0, 1, 0, 0</tspan><tspan x="0" dy="5.8">0, 0, 0, 0, 0, 0, 0, 0, 0, 0, 0, 0, 0, 0</tspan><tspan x="0" dy="5.8">0, 0, 0, 0, 0, 0, 0, 0, 0, 0, 0, 0, 0, 0</tspan><tspan x="0" dy="5.8">0, 0, 0, 0, 0, 0, 0, 0, 0, 0, 0, 0, 0, 0</tspan><tspan x="0" dy="5.8">0, 0, 0, 0, 0, 0, 0, 0, 0, 0, 0, 0, 0, 0</tspan><tspan x="0" dy="5.8">0, 0, 0, 0, 0, 0, 0, 0, 0, 0, 0, 1, 0, 0</tspan><tspan x="0" dy="5.8">0, 0, 0, 0, 0, 0, 0, 0, 0, 0, 0, 0, 0, 0</tspan><tspan x="0" dy="5.8">0, 0, 0, 0, 0, 0, 0, 0, 1, 0, 0, 0, 0, 0</tspan><tspan x="0" dy="5.8">1, 0, 0, 0, 0, 0, 0, 0, 0, 0, 0, 0, 0, 0</tspan><tspan x="0" dy="5.8">0, 0, 0, 0, 0, 0, 0, 0, 0, 1, 0, 0, 0, 0</tspan><tspan x="0" dy="5.8">0, 0, 0, 0, 1, 0, 0, 0, 0, 0, 0, 0, 0, 1</tspan><tspan x="0" dy="5.8">0, 0, 0, 0, 0, 0, 0, 0, 0, 0, 0, 0, 0, 0</tspan><tspan x="0" dy="5.8">0, 0, 0, 1, 0, 0, 0, 0, 0, 0, 0, 0, 0, 0</tspan><tspan x="0" dy="5.8">0, 0, 0, 0, 0, 0, 1, 0, 0, 0, 0, 0, 0, 0</tspan><tspan x="0" dy="5.8">0, 0, 0, 0, 0, 0, 0, 0, 0, 0, 0, 0, 1, 0</tspan><tspan x="0" dy="5.8">0, 0, 0, 0, 0, 0, 0, 0, 0, 0, 0, 0, 0, 0</tspan><tspan x="0" dy="5.8">0, 0, 0, 0, 0, 0, 0, 0, 0, 0, 0, 0, 0, 0</tspan><tspan x="0" dy="5.8">0, 0, 0, 0, 0, 0, 0, 0, 0, 0, 0, 0, 0, 0</tspan><tspan x="0" dy="5.8">0, 0, 0, 0, 0, 0, 0, 0, 0, 0, 1, 0, 0, 0</tspan><tspan x="0" dy="5.8">0, 0, 0, 0, 0, 0, 0, 0, 0, 0, 0, 0, 0, 0</tspan><tspan x="0" dy="5.8">0, 0, 0, 0, 0, 0, 0, 0, 0, 0, 0, 0, 0, 1</tspan><tspan x="0" dy="5.8">0, 0, 0, 0, 0, 0, 0, 0, 0, 0, 0, 0, 0, 0</tspan><tspan x="0" dy="5.8">0, 0, 0, 0, 0, 0, 0, 0, 0, 0, 0, 0, 0, 0</tspan><tspan x="0" dy="5.8">0, 0, 0, 0, 0, 0, 0, 0, 0, 0, 0, 0, 0, 0]</tspan></text></g>

<g id="node14" transform="translate(1824,1061)"><rect class="b" x="-61" width="122" height="212" fill="#ffffff"/><text class="t" y="6.25"><tspan x="0">LotFrontage &lt;= 4.5</tspan><tspan x="0" dy="5.8">gini = 0.994</tspan><tspan x="0" dy="5.8">samples = 255</tspan><tspan x="0" dy="5.8">value = [0, 0, 0, 0, 0, 0, 0, 0, 0, 0, 0, 0, 0, 0</tspan><tspan x="0" dy="5.8">0, 0, 0, 1, 0, 0, 0, 1, 0, 0, 0, 1, 0, 0</tspan><tspan x="0" dy="5.8">0, 0, 0, 0, 0, 0, 0, 0, 0, 0, 0, 0, 0, 0</tspan><tspan x="0" dy="5.8">0, 0, 0, 0, 0, 0, 0, 0, 0, 0, 0, 0, 0, 0</tspan><tspan x="0" dy="5.8">0, 0, 0, 0, 0, 0, 0, 0, 0, 0, 0, 0, 0, 0</tspan><tspan x="0" dy="5.8">0, 0, 0, 0, 0, 0, 0, 0, 0, 0, 2, 0, 0, 0</tspan><tspan x="0" dy="5.8">0, 0, 0, 0, 0, 0, 0, 0, 0, 0, 0, 0, 0, 0</tspan><tspan x="0" dy="5.8">0, 0, 0, 0, 0, 0, 0, 0, 0, 0, 0, 0, 0, 0</tspan><tspan x="0" dy="5.8">0, 0, 0, 0, 0, 0, 0, 0, 0, 0, 0, 1, 0, 0</tspan><tspan x="0" dy="5.8">0, 0, 0, 0, 0, 0, 0, 0, 0, 0, 0, 0, 0, 0</tspan><tspan x="0" dy="5.8">0, 0, 0, 0, 0, 0, 0, 0, 0, 0, 0, 0, 0, 0</tspan><tspan x="0" dy="5.8">0, 0, 0, 0, 0, 0, 0, 0, 0, 0, 0, 0, 0, 0</tspan><tspan x="0" dy="5.8">0, 0, 0, 0, 0, 0, 0, 0, 0, 0, 0, 0, 0, 0</tspan><tspan x="0" dy="5.8">0, 0, 0, 1, 0, 0, 0, 0, 1, 0, 1, 0, 0, 0</tspan><tspan x="0" dy="5.8">0, 1, 0, 0, 0, 0, 0, 0, 0, 0, 0, 1, 0, 0</tspan><tspan x="0" dy="5.8">1, 0, 1, 2, 0, 1, 1, 0, 1, 1, 0, 1, 0, 0</tspan><tspan x="0" dy="5.8">1, 1, 0, 3, 1, 0, 1, 1, 1, 1, 0, 0, 1, 1</tspan><tspan x="0" dy="5.8">2, 3, 1, 1, 0, 1, 1, 0, 1, 1, 1, 2, 1, 0</tspan><tspan x="0" dy="5.8">1, 0, 0, 0, 0, 2, 1, 0, 0, 3, 0, 2, 1, 3</tspan><tspan x="0" dy="5.8">1, 2, 0, 1, 2, 0, 1, 1, 2, 2, 1, 1, 1, 2</tspan><tspan x="0" dy="5.8">0, 1, 1, 2, 1, 1, 1, 1, 3, 1, 1, 1, 1, 1</tspan><tspan x="0" dy="5.8">1, 1, 1, 1, 1, 1, 1, 1, 2, 1, 1, 2, 1, 0</tspan><tspan x="0" dy="5.8">1, 1, 1, 2, 2, 1, 1, 1, 1, 2, 1, 2, 1, 1</tspan><tspan x="0" dy="5.8">4, 1, 1, 2, 1, 1, 1, 4, 1, 1, 1, 1, 5, 1</tspan><tspan x="0" dy="5.8">0, 1, 1, 3, 1, 2, 1, 2, 1, 1, 1, 1, 1, 2</tspan><tspan x="0" dy="5.8">1, 1, 1, 1, 1, 1, 1, 1, 1, 1, 1, 1, 1, 1</tspan><tspan x="0" dy="5.8">2, 1, 1, 1, 1, 1, 1, 2, 1, 1, 1, 1, 2, 1</tspan><tspan x="0" dy="5.8">1, 0, 1, 1, 1, 1, 1, 1, 1, 1, 4, 1, 1, 1</tspan><tspan x="0" dy="5.8">1, 0, 1, 1, 2, 1, 1, 1, 1, 1, 1, 1, 1, 1</tspan><tspan x="0" dy="5.8">1, 1, 1, 1, 1, 0, 1, 1, 1, 1, 1, 2, 0, 4</tspan><tspan x="0" dy="5.8">1, 0, 1, 1, 1, 1, 1, 1, 1, 1, 2, 1, 1, 0</tspan><tspan x="0" dy="5.8">1, 1, 1, 1, 1, 1, 1, 1, 1, 1, 1, 1, 1, 1</tspan><tspan x="0" dy="5.8">1, 1, 1, 0, 1, 1, 1, 1, 1, 1, 1, 1, 1, 1]</tspan></text></g>

<g id="leaf13" transform="translate(1763.5,1336)"><rect class="b" x="-59.75" width="119.5" height="207" fill="#d2f7cf"/><text class="t" y="6.65"><tspan x="0">gini = 0.72</tspan><tspan x="0" dy="5.8">samples = 5</tspan><tspan x="0" dy="5.8">value = [0, 0, 0, 0, 0, 0, 0, 0, 0, 0, 0, 0, 0, 0</tspan><tspan x="0" dy="5.8">0, 0, 0, 0, 0, 0, 1, 0, 0, 0, 1, 0, 0, 0</tspan><tspan x="0" dy="5.8">0, 0, 0, 0, 0, 0, 0, 0, 0, 0, 0, 0, 0, 0</tspan><tspan x="0" dy="5.8">0, 0, 0, 0, 0, 0, 0, 0, 0, 0, 0, 0, 0, 0</tspan><tspan x="0" dy="5.8">0, 0, 0, 0, 0, 0, 0, 0, 0, 0, 0, 0, 0, 0</tspan><tspan x="0" dy="5.8">0, 0, 0, 0, 0, 0, 0, 0, 0, 0, 2, 0, 0, 0</tspan><tspan x="0" dy="5.8">0, 0, 0, 0, 0, 0, 0, 0, 0, 0, 0, 0, 0, 0</tspan><tspan x="0" dy="5.8">0, 0, 0, 0, 0, 0, 0, 0, 0, 0, 0, 0, 0, 0</tspan><tspan x="0" dy="5.8">0, 0, 0, 0, 0, 0, 0, 0, 0, 0, 0, 1, 0, 0</tspan><tspan x="0" dy="5.8">0, 0, 0, 0, 0, 0, 0, 0, 0, 0, 0, 0, 0, 0</tspan><tspan x="0" dy="5.8">0, 0, 0, 0, 0, 0, 0, 0, 0, 0, 0, 0, 0, 0</tspan><tspan x="0" dy="5.8">0, 0, 0, 0, 0, 0, 0, 0, 0, 0, 0, 0, 0, 0</tspan><tspan x="0" dy="5.8">0, 0, 0, 0, 0, 0, 0, 0, 0, 0, 0, 0, 0, 0</tspan><tspan x="0" dy="5.8">0, 0, 0, 0, 0, 0, 0, 0, 0, 0, 0, 0, 0, 0</tspan><tspan x="0" dy="5.8">0, 0, 0, 0, 0, 0, 0, 0, 0, 0, 0, 0, 0, 0</tspan><tspan x="0" dy="5.8">0, 0, 0, 0, 0, 0, 0, 0, 0, 0, 0, 0, 0, 0</tspan><tspan x="0" dy="5.8">0, 0, 0, 0, 0, 0, 0, 0, 0, 0, 0, 0, 0, 0</tspan><tspan x="0" dy="5.8">0, 0, 0, 0, 0, 0, 0, 0, 0, 0, 0, 0, 0, 0</tspan><tspan x="0" dy="5.8">0, 0, 0, 0, 0, 0, 0, 0, 0, 0, 0, 0, 0, 0</tspan><tspan x="0" dy="5.8">0, 0, 0, 0, 0, 0, 0, 0, 0, 0, 0, 0, 0, 0</tspan><tspan x="0" dy="5.8">0, 0, 0, 0, 0, 0, 0, 0, 0, 0, 0, 0, 0, 0</tspan><tspan x="0" dy="5.8">0, 0, 0, 0, 0, 0, 0, 0, 0, 0, 0, 0, 0, 0</tspan><tspan x="0" dy="5.8">0, 0, 0, 0, 0, 0, 0, 0, 0, 0, 0, 0, 0, 0</tspan><tspan x="0" dy="5.8">0, 0, 0, 0, 0, 0, 0, 0, 0, 0, 0, 0, 0, 0</tspan><tspan x="0" dy="5.8">0, 0, 0, 0, 0, 0, 0, 0, 0, 0, 0, 0, 0, 0</tspan><tspan x="0" dy="5.8">0, 0, 0, 0, 0, 0, 0, 0, 0, 0, 0, 0, 0, 0</tspan><tspan x="0" dy="5.8">0, 0, 0, 0, 0, 0, 0, 0, 0, 0, 0, 0, 0, 0</tspan><tspan x="0" dy="5.8">0, 0, 0, 0, 0, 0, 0, 0, 0, 0, 0, 0, 0, 0</tspan><tspan x="0" dy="5.8">0, 0, 0, 0, 0, 0, 0, 0, 0, 0, 0, 0, 0, 0</tspan><tspan x="0" dy="5.8">0, 0, 0, 0, 0, 0, 0, 0, 0, 0, 0, 0, 0, 0</tspan><tspan x="0" dy="5.8">0, 0, 0, 0, 0, 0, 0, 0, 0, 0, 0, 0, 0, 0</tspan><tspan x="0" dy="5.8">0, 0, 0, 0, 0, 0, 0, 0, 0, 0, 0, 0, 0, 0</tspan><tspan x="0" dy="5.8">0, 0, 0, 0, 0, 0, 0, 0, 0, 0, 0, 0, 0, 0]</tspan></text></g>

<g id="leaf14" transform="translate(1884,1336)"><rect class="b" x="-61" width="122" height="207" fill="#ffffff"/><text class="t" y="6.65"><tspan x="0">gini = 0.994</tspan><tspan x="0" dy="5.8">samples = 250</tspan><tspan x="0" dy="5.8">value = [0, 0, 0, 0, 0, 0, 0, 0, 0, 0, 0, 0, 0, 0</tspan><tspan x="0" dy="5.8">0, 0, 0, 1, 0, 0, 0, 0, 0, 0, 0, 0, 0, 0</tspan><tspan x="0" dy="5.8">0, 0, 0, 0, 0, 0, 0, 0, 0, 0, 0, 0, 0, 0</tspan><tspan x="0" dy="5.8">0, 0, 0, 0, 0, 0, 0, 0, 0, 0, 0, 0, 0, 0</tspan><tspan x="0" dy="5.8">0, 0, 0, 0, 0, 1, 0, 0, 0, 0, 0, 0, 0, 0</tspan><tspan x="0" dy="5.8">0, 0, 0, 0, 0, 0, 0, 0, 0, 0, 0, 0, 0, 0</tspan><tspan x="0" dy="5.8">0, 0, 0, 0, 0, 0, 0, 0, 0, 0, 0, 0, 0, 0</tspan><tspan x="0" dy="5.8">0, 0, 0, 0, 0, 0, 0, 0, 0, 0, 0, 0, 0, 0</tspan><tspan x="0" dy="5.8">0, 0, 0, 0, 0, 0, 0, 0, 0, 0, 0, 0, 0, 0</tspan><tspan x="0" dy="5.8">0, 0, 0, 0, 0, 0, 0, 0, 0, 0, 0, 0, 0, 0</tspan><tspan x="0" dy="5.8">0, 0, 0, 0, 0, 0, 0, 0, 0, 0, 0, 0, 0, 0</tspan><tspan x="0" dy="5.8">0, 0, 0, 0, 0, 0, 0, 0, 0, 0, 0, 0, 0, 0</tspan><tspan x="0" dy="5.8">0, 0, 0, 0, 0, 0, 0, 0, 0, 0, 0, 0, 0, 0</tspan><tspan x="0" dy="5.8">0, 0, 0, 1, 0, 0, 0, 0, 1, 0, 1, 0, 0, 0</tspan><tspan x="0" dy="5.8">0, 1, 0, 0, 0, 0, 0, 0, 0, 0, 0, 1, 0, 0</tspan><tspan x="0" dy="5.8">1, 0, 1, 2, 0, 1, 1, 0, 1, 1, 0, 1, 0, 0</tspan><tspan x="0" dy="5.8">1, 1, 0, 3, 1, 0, 1, 1, 1, 1, 0, 0, 1, 1</tspan><tspan x="0" dy="5.8">2, 3, 1, 1, 0, 1, 1, 0, 1, 1, 1, 2, 1, 0</tspan><tspan x="0" dy="5.8">1, 0, 0, 0, 0, 2, 1, 0, 0, 3, 0, 2, 1, 3</tspan><tspan x="0" dy="5.8">1, 2, 0, 1, 2, 0, 1, 1, 2, 2, 1, 1, 1, 2</tspan><tspan x="0" dy="5.8">0, 1, 1, 2, 1, 1, 1, 1, 3, 1, 1, 1, 1, 1</tspan><tspan x="0" dy="5.8">1, 1, 1, 1, 1, 1, 1, 1, 2, 1, 1, 2, 1, 0</tspan><tspan x="0" dy="5.8">1, 1, 1, 2, 2, 1, 1, 1, 1, 2, 1, 2, 1, 1</tspan><tspan x="0" dy="5.8">4, 1, 1, 2, 1, 1, 1, 4, 1, 1, 1, 1, 5, 1</tspan><tspan x="0" dy="5.8">0, 1, 1, 3, 1, 2, 1, 2, 1, 1, 1, 1, 1, 2</tspan><tspan x="0" dy="5.8">1, 1, 1, 1, 1, 1, 1, 1, 1, 1, 1, 1, 1, 1</tspan><tspan x="0" dy="5.8">2, 1, 1, 1, 1, 1, 1, 2, 1, 1, 1, 1, 2, 1</tspan><tspan x="0" dy="5.8">1, 0, 1, 1, 1, 1, 1, 1, 1, 1, 4, 1, 1, 1</tspan><tspan x="0" dy="5.8">1, 0, 1, 1, 2, 1, 1, 1, 1, 1, 1, 1, 1, 1</tspan><tspan x="0" dy="5.8">1, 1, 1, 1, 1, 0, 1, 1, 1, 1, 1, 2, 0, 4</tspan><tspan x="0" dy="5.8">1, 0, 1, 1, 1, 1, 1, 1, 1, 1, 2, 1, 1, 0</tspan><tspan x="0" dy="5.8">1, 1, 1, 1, 1, 1, 1, 1, 1, 1, 1, 1, 1, 1</tspan><tspan x="0" dy="5.8">1, 1, 1, 0, 1, 1, 1, 1, 1, 1, 1, 1, 1, 1]</tspan></text></g>
</svg>
